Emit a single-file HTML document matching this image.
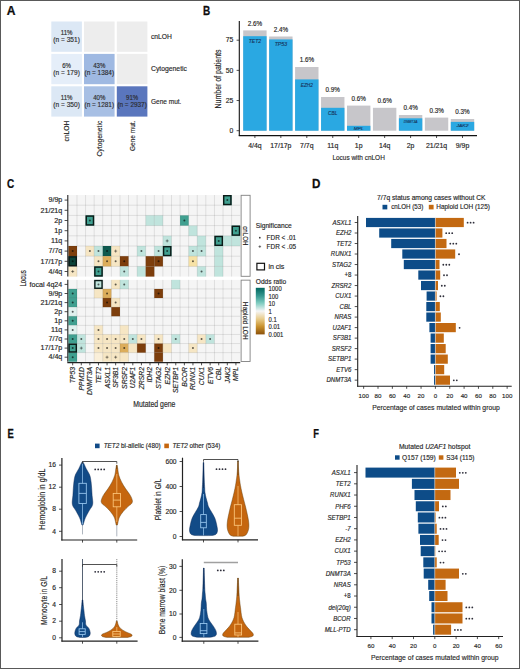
<!DOCTYPE html>
<html><head><meta charset="utf-8"><title>Figure</title><style>html,body{margin:0;padding:0;background:#fff;width:520px;height:669px;overflow:hidden}svg{display:block;font-family:"Liberation Sans",sans-serif}</style></head><body>
<svg width="520" height="669" viewBox="0 0 520 669" font-family="Liberation Sans, sans-serif"><rect x="0" y="0" width="520" height="669" fill="#ffffff"/><text transform="translate(6.8 15.4) scale(0.9956 1)" x="0" y="0" font-size="12.14" font-weight="bold" fill="#0d0d0d" stroke="#0d0d0d" stroke-width="0.25">A</text>
<text transform="translate(203.1 15.4) scale(0.8240 1)" x="0" y="0" font-size="12.14" font-weight="bold" fill="#0d0d0d" stroke="#0d0d0d" stroke-width="0.25">B</text>
<text transform="translate(6.9 188) scale(0.7774 1)" x="0" y="0" font-size="12.86" font-weight="bold" fill="#0d0d0d" stroke="#0d0d0d" stroke-width="0.25">C</text>
<text transform="translate(312.1 187.8) scale(0.9279 1)" x="0" y="0" font-size="12.57" font-weight="bold" fill="#0d0d0d" stroke="#0d0d0d" stroke-width="0.25">D</text>
<text transform="translate(7.5 437.8) scale(0.7748 1)" x="0" y="0" font-size="12.14" font-weight="bold" fill="#0d0d0d" stroke="#0d0d0d" stroke-width="0.25">E</text>
<text transform="translate(313.3 437.8) scale(0.7699 1)" x="0" y="0" font-size="12.14" font-weight="bold" fill="#0d0d0d" stroke="#0d0d0d" stroke-width="0.25">F</text>
<rect x="51.3" y="21.5" width="30.6" height="30.3" fill="#dce8f5"/>
<text transform="translate(66.6 32.9) scale(0.9200 1)" x="0" y="2.34" font-size="6.6" text-anchor="middle" fill="#2b2b2b" stroke="#2b2b2b" stroke-width="0.15">11%</text>
<text transform="translate(66.6 39.9) scale(0.9963 1)" x="0" y="2.34" font-size="6.6" text-anchor="middle" fill="#2b2b2b" stroke="#2b2b2b" stroke-width="0.15">(n = 351)</text>
<rect x="84" y="21.5" width="30.6" height="30.3" fill="#ededed"/>
<rect x="116.8" y="21.5" width="30.6" height="30.3" fill="#ededed"/>
<rect x="51.3" y="53.9" width="30.6" height="30.3" fill="#e5eef9"/>
<text transform="translate(66.6 65.3) scale(0.9200 1)" x="0" y="2.34" font-size="6.6" text-anchor="middle" fill="#2b2b2b" stroke="#2b2b2b" stroke-width="0.15">6%</text>
<text transform="translate(66.6 72.3) scale(0.9963 1)" x="0" y="2.34" font-size="6.6" text-anchor="middle" fill="#2b2b2b" stroke="#2b2b2b" stroke-width="0.15">(n = 179)</text>
<rect x="84" y="53.9" width="30.6" height="30.3" fill="#9fb9e2"/>
<text transform="translate(99.3 65.3) scale(0.9200 1)" x="0" y="2.34" font-size="6.6" text-anchor="middle" fill="#2b2b2b" stroke="#2b2b2b" stroke-width="0.15">43%</text>
<text transform="translate(99.3 72.3) scale(0.9746 1)" x="0" y="2.34" font-size="6.6" text-anchor="middle" fill="#2b2b2b" stroke="#2b2b2b" stroke-width="0.15">(n = 1384)</text>
<rect x="116.8" y="53.9" width="30.6" height="30.3" fill="#ededed"/>
<rect x="51.3" y="86.3" width="30.6" height="30.3" fill="#dce8f5"/>
<text transform="translate(66.6 97.7) scale(0.9200 1)" x="0" y="2.34" font-size="6.6" text-anchor="middle" fill="#2b2b2b" stroke="#2b2b2b" stroke-width="0.15">11%</text>
<text transform="translate(66.6 104.7) scale(0.9963 1)" x="0" y="2.34" font-size="6.6" text-anchor="middle" fill="#2b2b2b" stroke="#2b2b2b" stroke-width="0.15">(n = 350)</text>
<rect x="84" y="86.3" width="30.6" height="30.3" fill="#a7bfe4"/>
<text transform="translate(99.3 97.7) scale(0.9200 1)" x="0" y="2.34" font-size="6.6" text-anchor="middle" fill="#2b2b2b" stroke="#2b2b2b" stroke-width="0.15">40%</text>
<text transform="translate(99.3 104.7) scale(0.9746 1)" x="0" y="2.34" font-size="6.6" text-anchor="middle" fill="#2b2b2b" stroke="#2b2b2b" stroke-width="0.15">(n = 1281)</text>
<rect x="116.8" y="86.3" width="30.6" height="30.3" fill="#5a76bd"/>
<text transform="translate(132.1 97.7) scale(0.9200 1)" x="0" y="2.34" font-size="6.6" text-anchor="middle" fill="#2b2b2b" stroke="#2b2b2b" stroke-width="0.15">91%</text>
<text transform="translate(132.1 104.7) scale(0.9746 1)" x="0" y="2.34" font-size="6.6" text-anchor="middle" fill="#2b2b2b" stroke="#2b2b2b" stroke-width="0.15">(n = 2937)</text>
<text transform="translate(151 36.35) scale(0.9372 1)" x="0" y="2.56" font-size="7.2" text-anchor="start" fill="#262626" stroke="#262626" stroke-width="0.15">cnLOH</text>
<text transform="translate(151 68.75) scale(0.9469 1)" x="0" y="2.56" font-size="7.2" text-anchor="start" fill="#262626" stroke="#262626" stroke-width="0.15">Cytogenetic</text>
<text transform="translate(151 101.15) scale(0.9074 1)" x="0" y="2.56" font-size="7.2" text-anchor="start" fill="#262626" stroke="#262626" stroke-width="0.15">Gene mut.</text>
<text transform="translate(66.9 120.6) rotate(-90) scale(0.9372 1)" x="0" y="2.56" font-size="7.2" text-anchor="end" fill="#262626" stroke="#262626" stroke-width="0.15">cnLOH</text>
<text transform="translate(99.6 120.6) rotate(-90) scale(0.9469 1)" x="0" y="2.56" font-size="7.2" text-anchor="end" fill="#262626" stroke="#262626" stroke-width="0.15">Cytogenetic</text>
<text transform="translate(132.4 120.6) rotate(-90) scale(0.9074 1)" x="0" y="2.56" font-size="7.2" text-anchor="end" fill="#262626" stroke="#262626" stroke-width="0.15">Gene mut.</text>
<rect x="243.2" y="30.4" width="23.4" height="100.3" fill="#c7c6ca"/>
<rect x="243.2" y="36.2" width="23.4" height="94.5" fill="#2aa8e2"/>
<text transform="translate(254.9 23.6) scale(1.0000 1)" x="0" y="2.24" font-size="6.3" text-anchor="middle" fill="#262626" stroke="#262626" stroke-width="0.15">2.6%</text>
<text transform="translate(254.9 41.5) scale(1.0185 1)" x="0" y="1.74" font-size="4.9" text-anchor="middle" fill="#17375f" font-style="italic" stroke="#17375f" stroke-width="0.15">TET2</text>
<line x1="254.9" y1="135.6" x2="254.9" y2="138" stroke="#222" stroke-width="0.8"/>
<text transform="translate(254.9 145.6) scale(1.1000 1)" x="0" y="2.24" font-size="6.3" text-anchor="middle" fill="#262626" stroke="#262626" stroke-width="0.15">4/4q</text>
<rect x="269.15" y="36.5" width="23.4" height="94.2" fill="#c7c6ca"/>
<rect x="269.15" y="39.4" width="23.4" height="91.3" fill="#2aa8e2"/>
<text transform="translate(280.85 29.7) scale(1.0000 1)" x="0" y="2.24" font-size="6.3" text-anchor="middle" fill="#262626" stroke="#262626" stroke-width="0.15">2.4%</text>
<text transform="translate(280.85 44.4) scale(1.0588 1)" x="0" y="1.74" font-size="4.9" text-anchor="middle" fill="#17375f" font-style="italic" stroke="#17375f" stroke-width="0.15">TP53</text>
<line x1="280.85" y1="135.6" x2="280.85" y2="138" stroke="#222" stroke-width="0.8"/>
<text transform="translate(280.85 145.6) scale(1.1000 1)" x="0" y="2.24" font-size="6.3" text-anchor="middle" fill="#262626" stroke="#262626" stroke-width="0.15">17/17p</text>
<rect x="295.1" y="67" width="23.4" height="63.7" fill="#c7c6ca"/>
<rect x="295.1" y="79.4" width="23.4" height="51.3" fill="#2aa8e2"/>
<text transform="translate(306.8 60.2) scale(1.0000 1)" x="0" y="2.24" font-size="6.3" text-anchor="middle" fill="#262626" stroke="#262626" stroke-width="0.15">1.6%</text>
<text transform="translate(306.8 85.3) scale(0.9581 1)" x="0" y="1.74" font-size="4.9" text-anchor="middle" fill="#17375f" font-style="italic" stroke="#17375f" stroke-width="0.15">EZH2</text>
<line x1="306.8" y1="135.6" x2="306.8" y2="138" stroke="#222" stroke-width="0.8"/>
<text transform="translate(306.8 145.6) scale(1.1000 1)" x="0" y="2.24" font-size="6.3" text-anchor="middle" fill="#262626" stroke="#262626" stroke-width="0.15">7/7q</text>
<rect x="321.05" y="97" width="23.4" height="33.7" fill="#c7c6ca"/>
<rect x="321.05" y="107.8" width="23.4" height="22.9" fill="#2aa8e2"/>
<text transform="translate(332.75 90.2) scale(1.0000 1)" x="0" y="2.24" font-size="6.3" text-anchor="middle" fill="#262626" stroke="#262626" stroke-width="0.15">0.9%</text>
<text transform="translate(332.75 113) scale(0.9757 1)" x="0" y="1.74" font-size="4.9" text-anchor="middle" fill="#17375f" font-style="italic" stroke="#17375f" stroke-width="0.15">CBL</text>
<line x1="332.75" y1="135.6" x2="332.75" y2="138" stroke="#222" stroke-width="0.8"/>
<text transform="translate(332.75 145.6) scale(1.1000 1)" x="0" y="2.24" font-size="6.3" text-anchor="middle" fill="#262626" stroke="#262626" stroke-width="0.15">11q</text>
<rect x="347" y="105.6" width="23.4" height="25.1" fill="#c7c6ca"/>
<rect x="347" y="125.8" width="23.4" height="4.9" fill="#2aa8e2"/>
<text transform="translate(358.7 98.8) scale(1.0000 1)" x="0" y="2.24" font-size="6.3" text-anchor="middle" fill="#262626" stroke="#262626" stroke-width="0.15">0.6%</text>
<text transform="translate(358.7 128.6) scale(1.0971 1)" x="0" y="1.53" font-size="4.3" text-anchor="middle" fill="#17375f" font-style="italic" stroke="#17375f" stroke-width="0.15">MPL</text>
<line x1="358.7" y1="135.6" x2="358.7" y2="138" stroke="#222" stroke-width="0.8"/>
<text transform="translate(358.7 145.6) scale(1.1000 1)" x="0" y="2.24" font-size="6.3" text-anchor="middle" fill="#262626" stroke="#262626" stroke-width="0.15">1p</text>
<rect x="372.95" y="107.8" width="23.4" height="22.9" fill="#c7c6ca"/>
<text transform="translate(384.65 101) scale(1.0000 1)" x="0" y="2.24" font-size="6.3" text-anchor="middle" fill="#262626" stroke="#262626" stroke-width="0.15">0.6%</text>
<line x1="384.65" y1="135.6" x2="384.65" y2="138" stroke="#222" stroke-width="0.8"/>
<text transform="translate(384.65 145.6) scale(1.1000 1)" x="0" y="2.24" font-size="6.3" text-anchor="middle" fill="#262626" stroke="#262626" stroke-width="0.15">14q</text>
<rect x="398.9" y="115" width="23.4" height="15.7" fill="#c7c6ca"/>
<rect x="398.9" y="118.3" width="23.4" height="12.4" fill="#2aa8e2"/>
<text transform="translate(410.6 108.2) scale(1.0000 1)" x="0" y="2.24" font-size="6.3" text-anchor="middle" fill="#262626" stroke="#262626" stroke-width="0.15">0.4%</text>
<text transform="translate(410.6 121.4) scale(0.7806 1)" x="0" y="1.53" font-size="4.3" text-anchor="middle" fill="#17375f" font-style="italic" stroke="#17375f" stroke-width="0.15">DNMT3A</text>
<line x1="410.6" y1="135.6" x2="410.6" y2="138" stroke="#222" stroke-width="0.8"/>
<text transform="translate(410.6 145.6) scale(1.1000 1)" x="0" y="2.24" font-size="6.3" text-anchor="middle" fill="#262626" stroke="#262626" stroke-width="0.15">2p</text>
<rect x="424.85" y="117.6" width="23.4" height="13.1" fill="#c7c6ca"/>
<text transform="translate(436.55 110.8) scale(1.0000 1)" x="0" y="2.24" font-size="6.3" text-anchor="middle" fill="#262626" stroke="#262626" stroke-width="0.15">0.3%</text>
<line x1="436.55" y1="135.6" x2="436.55" y2="138" stroke="#222" stroke-width="0.8"/>
<text transform="translate(436.55 145.6) scale(1.1000 1)" x="0" y="2.24" font-size="6.3" text-anchor="middle" fill="#262626" stroke="#262626" stroke-width="0.15">21/21q</text>
<rect x="450.8" y="119" width="23.4" height="11.7" fill="#c7c6ca"/>
<rect x="450.8" y="121.9" width="23.4" height="8.8" fill="#2aa8e2"/>
<text transform="translate(462.5 112.2) scale(1.0000 1)" x="0" y="2.24" font-size="6.3" text-anchor="middle" fill="#262626" stroke="#262626" stroke-width="0.15">0.3%</text>
<text transform="translate(462.5 125) scale(1.1676 1)" x="0" y="1.53" font-size="4.3" text-anchor="middle" fill="#17375f" font-style="italic" stroke="#17375f" stroke-width="0.15">JAK2</text>
<line x1="462.5" y1="135.6" x2="462.5" y2="138" stroke="#222" stroke-width="0.8"/>
<text transform="translate(462.5 145.6) scale(1.1000 1)" x="0" y="2.24" font-size="6.3" text-anchor="middle" fill="#262626" stroke="#262626" stroke-width="0.15">9/9p</text>
<line x1="239.3" y1="21" x2="239.3" y2="136.1" stroke="#111" stroke-width="1.1"/>
<line x1="238.8" y1="135.6" x2="477" y2="135.6" stroke="#111" stroke-width="1.1"/>
<line x1="236.6" y1="130.7" x2="239.3" y2="130.7" stroke="#222" stroke-width="0.8"/>
<text transform="translate(233.4 130.7) scale(1.0800 1)" x="0" y="2.24" font-size="6.3" text-anchor="end" fill="#262626" stroke="#262626" stroke-width="0.15">0</text>
<line x1="236.6" y1="100.53" x2="239.3" y2="100.53" stroke="#222" stroke-width="0.8"/>
<text transform="translate(233.4 100.53) scale(1.0800 1)" x="0" y="2.24" font-size="6.3" text-anchor="end" fill="#262626" stroke="#262626" stroke-width="0.15">25</text>
<line x1="236.6" y1="70.36" x2="239.3" y2="70.36" stroke="#222" stroke-width="0.8"/>
<text transform="translate(233.4 70.36) scale(1.0800 1)" x="0" y="2.24" font-size="6.3" text-anchor="end" fill="#262626" stroke="#262626" stroke-width="0.15">50</text>
<line x1="236.6" y1="40.2" x2="239.3" y2="40.2" stroke="#222" stroke-width="0.8"/>
<text transform="translate(233.4 40.2) scale(1.0800 1)" x="0" y="2.24" font-size="6.3" text-anchor="end" fill="#262626" stroke="#262626" stroke-width="0.15">75</text>
<text transform="translate(217.9 79) rotate(-90) scale(0.8502 1)" x="0" y="2.91" font-size="8.2" text-anchor="middle" fill="#262626" stroke="#262626" stroke-width="0.15">Number of patients</text>
<text transform="translate(358.6 157.5) scale(0.8087 1)" x="0" y="2.84" font-size="8" text-anchor="middle" fill="#262626" stroke="#262626" stroke-width="0.15">Locus with cnLOH</text>
<rect x="68.4" y="195" width="171.8" height="81.6" fill="#f5f5f5"/>
<rect x="223.02" y="195" width="8.59" height="10.2" fill="#40a090"/>
<rect x="85.58" y="215.4" width="8.59" height="10.2" fill="#40a090"/>
<rect x="145.71" y="215.4" width="8.59" height="10.2" fill="#c0e4dd"/>
<rect x="154.3" y="215.4" width="8.59" height="10.2" fill="#c0e4dd"/>
<rect x="180.07" y="215.4" width="8.59" height="10.2" fill="#40a090"/>
<rect x="188.66" y="225.6" width="8.59" height="10.2" fill="#c0e4dd"/>
<rect x="231.61" y="225.6" width="8.59" height="10.2" fill="#40a090"/>
<rect x="162.89" y="235.8" width="8.59" height="10.2" fill="#c0e4dd"/>
<rect x="197.25" y="235.8" width="8.59" height="10.2" fill="#c0e4dd"/>
<rect x="214.43" y="235.8" width="8.59" height="10.2" fill="#40a090"/>
<rect x="223.02" y="235.8" width="8.59" height="10.2" fill="#c0e4dd"/>
<rect x="231.61" y="235.8" width="8.59" height="10.2" fill="#c0e4dd"/>
<rect x="68.4" y="246" width="8.59" height="10.2" fill="#7d3e0c"/>
<rect x="85.58" y="246" width="8.59" height="10.2" fill="#f6e6c4"/>
<rect x="94.17" y="246" width="8.59" height="10.2" fill="#c0e4dd"/>
<rect x="102.76" y="246" width="8.59" height="10.2" fill="#0e5a4f"/>
<rect x="111.35" y="246" width="8.59" height="10.2" fill="#f6e6c4"/>
<rect x="137.12" y="246" width="8.59" height="10.2" fill="#c0e4dd"/>
<rect x="154.3" y="246" width="8.59" height="10.2" fill="#c0e4dd"/>
<rect x="162.89" y="246" width="8.59" height="10.2" fill="#40a090"/>
<rect x="188.66" y="246" width="8.59" height="10.2" fill="#c0e4dd"/>
<rect x="197.25" y="246" width="8.59" height="10.2" fill="#c0e4dd"/>
<rect x="214.43" y="246" width="8.59" height="10.2" fill="#c0e4dd"/>
<rect x="68.4" y="256.2" width="8.59" height="10.2" fill="#0a4238"/>
<rect x="94.17" y="256.2" width="8.59" height="10.2" fill="#f6e6c4"/>
<rect x="102.76" y="256.2" width="8.59" height="10.2" fill="#dcad5b"/>
<rect x="111.35" y="256.2" width="8.59" height="10.2" fill="#f6e6c4"/>
<rect x="119.94" y="256.2" width="8.59" height="10.2" fill="#7d3e0c"/>
<rect x="145.71" y="256.2" width="8.59" height="10.2" fill="#7d3e0c"/>
<rect x="154.3" y="256.2" width="8.59" height="10.2" fill="#7d3e0c"/>
<rect x="188.66" y="256.2" width="8.59" height="10.2" fill="#f7e2a6"/>
<rect x="214.43" y="256.2" width="8.59" height="10.2" fill="#c0e4dd"/>
<rect x="68.4" y="266.4" width="8.59" height="10.2" fill="#f6e6c4"/>
<rect x="94.17" y="266.4" width="8.59" height="10.2" fill="#40a090"/>
<rect x="119.94" y="266.4" width="8.59" height="10.2" fill="#c0e4dd"/>
<rect x="137.12" y="266.4" width="8.59" height="10.2" fill="#c0e4dd"/>
<rect x="145.71" y="266.4" width="8.59" height="10.2" fill="#7d3e0c"/>
<rect x="197.25" y="266.4" width="8.59" height="10.2" fill="#c0e4dd"/>
<rect x="214.43" y="266.4" width="8.59" height="10.2" fill="#c0e4dd"/>
<line x1="76.99" y1="195" x2="76.99" y2="276.6" stroke="#000" stroke-width="0.75" stroke-opacity="0.13"/>
<line x1="85.58" y1="195" x2="85.58" y2="276.6" stroke="#000" stroke-width="0.75" stroke-opacity="0.13"/>
<line x1="94.17" y1="195" x2="94.17" y2="276.6" stroke="#000" stroke-width="0.75" stroke-opacity="0.13"/>
<line x1="102.76" y1="195" x2="102.76" y2="276.6" stroke="#000" stroke-width="0.75" stroke-opacity="0.13"/>
<line x1="111.35" y1="195" x2="111.35" y2="276.6" stroke="#000" stroke-width="0.75" stroke-opacity="0.13"/>
<line x1="119.94" y1="195" x2="119.94" y2="276.6" stroke="#000" stroke-width="0.75" stroke-opacity="0.13"/>
<line x1="128.53" y1="195" x2="128.53" y2="276.6" stroke="#000" stroke-width="0.75" stroke-opacity="0.13"/>
<line x1="137.12" y1="195" x2="137.12" y2="276.6" stroke="#000" stroke-width="0.75" stroke-opacity="0.13"/>
<line x1="145.71" y1="195" x2="145.71" y2="276.6" stroke="#000" stroke-width="0.75" stroke-opacity="0.13"/>
<line x1="154.3" y1="195" x2="154.3" y2="276.6" stroke="#000" stroke-width="0.75" stroke-opacity="0.13"/>
<line x1="162.89" y1="195" x2="162.89" y2="276.6" stroke="#000" stroke-width="0.75" stroke-opacity="0.13"/>
<line x1="171.48" y1="195" x2="171.48" y2="276.6" stroke="#000" stroke-width="0.75" stroke-opacity="0.13"/>
<line x1="180.07" y1="195" x2="180.07" y2="276.6" stroke="#000" stroke-width="0.75" stroke-opacity="0.13"/>
<line x1="188.66" y1="195" x2="188.66" y2="276.6" stroke="#000" stroke-width="0.75" stroke-opacity="0.13"/>
<line x1="197.25" y1="195" x2="197.25" y2="276.6" stroke="#000" stroke-width="0.75" stroke-opacity="0.13"/>
<line x1="205.84" y1="195" x2="205.84" y2="276.6" stroke="#000" stroke-width="0.75" stroke-opacity="0.13"/>
<line x1="214.43" y1="195" x2="214.43" y2="276.6" stroke="#000" stroke-width="0.75" stroke-opacity="0.13"/>
<line x1="223.02" y1="195" x2="223.02" y2="276.6" stroke="#000" stroke-width="0.75" stroke-opacity="0.13"/>
<line x1="231.61" y1="195" x2="231.61" y2="276.6" stroke="#000" stroke-width="0.75" stroke-opacity="0.13"/>
<line x1="68.4" y1="205.2" x2="240.2" y2="205.2" stroke="#000" stroke-width="0.75" stroke-opacity="0.13"/>
<line x1="68.4" y1="215.4" x2="240.2" y2="215.4" stroke="#000" stroke-width="0.75" stroke-opacity="0.13"/>
<line x1="68.4" y1="225.6" x2="240.2" y2="225.6" stroke="#000" stroke-width="0.75" stroke-opacity="0.13"/>
<line x1="68.4" y1="235.8" x2="240.2" y2="235.8" stroke="#000" stroke-width="0.75" stroke-opacity="0.13"/>
<line x1="68.4" y1="246" x2="240.2" y2="246" stroke="#000" stroke-width="0.75" stroke-opacity="0.13"/>
<line x1="68.4" y1="256.2" x2="240.2" y2="256.2" stroke="#000" stroke-width="0.75" stroke-opacity="0.13"/>
<line x1="68.4" y1="266.4" x2="240.2" y2="266.4" stroke="#000" stroke-width="0.75" stroke-opacity="0.13"/>
<rect x="223.72" y="195.7" width="7.19" height="8.8" fill="none" stroke="#0b1a17" stroke-width="1.4"/>
<circle cx="227.31" cy="200.1" r="1.0" fill="#000" fill-opacity="0.62"/>
<rect x="86.28" y="216.1" width="7.19" height="8.8" fill="none" stroke="#0b1a17" stroke-width="1.4"/>
<circle cx="89.88" cy="220.5" r="1.0" fill="#000" fill-opacity="0.62"/>
<circle cx="184.36" cy="220.5" r="1.0" fill="#000" fill-opacity="0.62"/>
<rect x="232.31" y="226.3" width="7.19" height="8.8" fill="none" stroke="#0b1a17" stroke-width="1.4"/>
<circle cx="235.91" cy="230.7" r="1.0" fill="#000" fill-opacity="0.62"/>
<line x1="165.68" y1="240.9" x2="168.68" y2="240.9" stroke="#000" stroke-width="0.7" stroke-opacity="0.62"/>
<line x1="167.18" y1="239.4" x2="167.18" y2="242.4" stroke="#000" stroke-width="0.7" stroke-opacity="0.62"/>
<rect x="215.13" y="236.5" width="7.19" height="8.8" fill="none" stroke="#0b1a17" stroke-width="1.4"/>
<circle cx="218.72" cy="240.9" r="1.0" fill="#000" fill-opacity="0.62"/>
<circle cx="72.7" cy="251.1" r="1.0" fill="#000" fill-opacity="0.62"/>
<circle cx="89.88" cy="251.1" r="1.0" fill="#000" fill-opacity="0.62"/>
<circle cx="98.47" cy="251.1" r="1.0" fill="#000" fill-opacity="0.62"/>
<circle cx="107.06" cy="251.1" r="1.0" fill="#000" fill-opacity="0.62"/>
<line x1="114.15" y1="251.1" x2="117.15" y2="251.1" stroke="#000" stroke-width="0.7" stroke-opacity="0.62"/>
<line x1="115.65" y1="249.6" x2="115.65" y2="252.6" stroke="#000" stroke-width="0.7" stroke-opacity="0.62"/>
<circle cx="141.41" cy="251.1" r="1.0" fill="#000" fill-opacity="0.62"/>
<circle cx="158.59" cy="251.1" r="1.0" fill="#000" fill-opacity="0.62"/>
<rect x="163.59" y="246.7" width="7.19" height="8.8" fill="none" stroke="#0b1a17" stroke-width="1.4"/>
<circle cx="167.18" cy="251.1" r="1.0" fill="#000" fill-opacity="0.62"/>
<circle cx="192.95" cy="251.1" r="1.0" fill="#000" fill-opacity="0.62"/>
<circle cx="201.54" cy="251.1" r="1.0" fill="#000" fill-opacity="0.62"/>
<rect x="69.1" y="256.9" width="7.19" height="8.8" fill="none" stroke="#0b1a17" stroke-width="1.4"/>
<circle cx="72.7" cy="261.3" r="1.0" fill="#000" fill-opacity="0.62"/>
<circle cx="98.47" cy="261.3" r="1.0" fill="#000" fill-opacity="0.62"/>
<circle cx="107.06" cy="261.3" r="1.0" fill="#000" fill-opacity="0.62"/>
<circle cx="115.65" cy="261.3" r="1.0" fill="#000" fill-opacity="0.62"/>
<circle cx="124.23" cy="261.3" r="1.0" fill="#000" fill-opacity="0.62"/>
<circle cx="158.59" cy="261.3" r="1.0" fill="#000" fill-opacity="0.62"/>
<circle cx="192.95" cy="261.3" r="1.0" fill="#000" fill-opacity="0.62"/>
<line x1="71.2" y1="271.5" x2="74.2" y2="271.5" stroke="#000" stroke-width="0.7" stroke-opacity="0.62"/>
<line x1="72.7" y1="270" x2="72.7" y2="273" stroke="#000" stroke-width="0.7" stroke-opacity="0.62"/>
<rect x="94.87" y="267.1" width="7.19" height="8.8" fill="none" stroke="#0b1a17" stroke-width="1.4"/>
<circle cx="98.47" cy="271.5" r="1.0" fill="#000" fill-opacity="0.62"/>
<circle cx="124.23" cy="271.5" r="1.0" fill="#000" fill-opacity="0.62"/>
<circle cx="201.54" cy="271.5" r="1.0" fill="#000" fill-opacity="0.62"/>
<rect x="68.4" y="279.85" width="171.8" height="81.9" fill="#f5f5f5"/>
<rect x="94.17" y="279.85" width="8.59" height="9.1" fill="#c0e4dd"/>
<rect x="111.35" y="279.85" width="8.59" height="9.1" fill="#f6e6c4"/>
<rect x="119.94" y="279.85" width="8.59" height="9.1" fill="#c0e4dd"/>
<rect x="171.48" y="279.85" width="8.59" height="9.1" fill="#c0e4dd"/>
<rect x="68.4" y="288.95" width="8.59" height="9.1" fill="#40a090"/>
<rect x="94.17" y="288.95" width="8.59" height="9.1" fill="#f6e6c4"/>
<rect x="102.76" y="288.95" width="8.59" height="9.1" fill="#dcad5b"/>
<rect x="154.3" y="288.95" width="8.59" height="9.1" fill="#7d3e0c"/>
<rect x="68.4" y="298.05" width="8.59" height="9.1" fill="#40a090"/>
<rect x="102.76" y="298.05" width="8.59" height="9.1" fill="#7d3e0c"/>
<rect x="111.35" y="298.05" width="8.59" height="9.1" fill="#f6e6c4"/>
<rect x="68.4" y="307.15" width="8.59" height="9.1" fill="#dff1ee"/>
<rect x="111.35" y="307.15" width="8.59" height="9.1" fill="#7d3e0c"/>
<rect x="68.4" y="316.25" width="8.59" height="9.1" fill="#40a090"/>
<rect x="68.4" y="325.35" width="8.59" height="9.1" fill="#dff1ee"/>
<rect x="94.17" y="325.35" width="8.59" height="9.1" fill="#f6e6c4"/>
<rect x="119.94" y="325.35" width="8.59" height="9.1" fill="#f6e6c4"/>
<rect x="68.4" y="334.45" width="8.59" height="9.1" fill="#40a090"/>
<rect x="76.99" y="334.45" width="8.59" height="9.1" fill="#c0e4dd"/>
<rect x="94.17" y="334.45" width="8.59" height="9.1" fill="#f6e6c4"/>
<rect x="102.76" y="334.45" width="8.59" height="9.1" fill="#f6e6c4"/>
<rect x="111.35" y="334.45" width="8.59" height="9.1" fill="#f6e6c4"/>
<rect x="119.94" y="334.45" width="8.59" height="9.1" fill="#f6e6c4"/>
<rect x="128.53" y="334.45" width="8.59" height="9.1" fill="#c0e4dd"/>
<rect x="137.12" y="334.45" width="8.59" height="9.1" fill="#f6e6c4"/>
<rect x="154.3" y="334.45" width="8.59" height="9.1" fill="#f6e6c4"/>
<rect x="171.48" y="334.45" width="8.59" height="9.1" fill="#c0e4dd"/>
<rect x="197.25" y="334.45" width="8.59" height="9.1" fill="#f6e6c4"/>
<rect x="205.84" y="334.45" width="8.59" height="9.1" fill="#c0e4dd"/>
<rect x="68.4" y="343.55" width="8.59" height="9.1" fill="#40a090"/>
<rect x="76.99" y="343.55" width="8.59" height="9.1" fill="#c0e4dd"/>
<rect x="94.17" y="343.55" width="8.59" height="9.1" fill="#f6e6c4"/>
<rect x="102.76" y="343.55" width="8.59" height="9.1" fill="#f6e6c4"/>
<rect x="111.35" y="343.55" width="8.59" height="9.1" fill="#f6e6c4"/>
<rect x="119.94" y="343.55" width="8.59" height="9.1" fill="#dcad5b"/>
<rect x="128.53" y="343.55" width="8.59" height="9.1" fill="#f6e6c4"/>
<rect x="137.12" y="343.55" width="8.59" height="9.1" fill="#7d3e0c"/>
<rect x="154.3" y="343.55" width="8.59" height="9.1" fill="#7d3e0c"/>
<rect x="162.89" y="343.55" width="8.59" height="9.1" fill="#f6e6c4"/>
<rect x="188.66" y="343.55" width="8.59" height="9.1" fill="#f6e6c4"/>
<rect x="68.4" y="352.65" width="8.59" height="9.1" fill="#40a090"/>
<rect x="94.17" y="352.65" width="8.59" height="9.1" fill="#faefd9"/>
<rect x="102.76" y="352.65" width="8.59" height="9.1" fill="#f6e6c4"/>
<rect x="111.35" y="352.65" width="8.59" height="9.1" fill="#f6e6c4"/>
<rect x="119.94" y="352.65" width="8.59" height="9.1" fill="#f6e6c4"/>
<rect x="154.3" y="352.65" width="8.59" height="9.1" fill="#7d3e0c"/>
<line x1="76.99" y1="279.85" x2="76.99" y2="361.75" stroke="#000" stroke-width="0.75" stroke-opacity="0.13"/>
<line x1="85.58" y1="279.85" x2="85.58" y2="361.75" stroke="#000" stroke-width="0.75" stroke-opacity="0.13"/>
<line x1="94.17" y1="279.85" x2="94.17" y2="361.75" stroke="#000" stroke-width="0.75" stroke-opacity="0.13"/>
<line x1="102.76" y1="279.85" x2="102.76" y2="361.75" stroke="#000" stroke-width="0.75" stroke-opacity="0.13"/>
<line x1="111.35" y1="279.85" x2="111.35" y2="361.75" stroke="#000" stroke-width="0.75" stroke-opacity="0.13"/>
<line x1="119.94" y1="279.85" x2="119.94" y2="361.75" stroke="#000" stroke-width="0.75" stroke-opacity="0.13"/>
<line x1="128.53" y1="279.85" x2="128.53" y2="361.75" stroke="#000" stroke-width="0.75" stroke-opacity="0.13"/>
<line x1="137.12" y1="279.85" x2="137.12" y2="361.75" stroke="#000" stroke-width="0.75" stroke-opacity="0.13"/>
<line x1="145.71" y1="279.85" x2="145.71" y2="361.75" stroke="#000" stroke-width="0.75" stroke-opacity="0.13"/>
<line x1="154.3" y1="279.85" x2="154.3" y2="361.75" stroke="#000" stroke-width="0.75" stroke-opacity="0.13"/>
<line x1="162.89" y1="279.85" x2="162.89" y2="361.75" stroke="#000" stroke-width="0.75" stroke-opacity="0.13"/>
<line x1="171.48" y1="279.85" x2="171.48" y2="361.75" stroke="#000" stroke-width="0.75" stroke-opacity="0.13"/>
<line x1="180.07" y1="279.85" x2="180.07" y2="361.75" stroke="#000" stroke-width="0.75" stroke-opacity="0.13"/>
<line x1="188.66" y1="279.85" x2="188.66" y2="361.75" stroke="#000" stroke-width="0.75" stroke-opacity="0.13"/>
<line x1="197.25" y1="279.85" x2="197.25" y2="361.75" stroke="#000" stroke-width="0.75" stroke-opacity="0.13"/>
<line x1="205.84" y1="279.85" x2="205.84" y2="361.75" stroke="#000" stroke-width="0.75" stroke-opacity="0.13"/>
<line x1="214.43" y1="279.85" x2="214.43" y2="361.75" stroke="#000" stroke-width="0.75" stroke-opacity="0.13"/>
<line x1="223.02" y1="279.85" x2="223.02" y2="361.75" stroke="#000" stroke-width="0.75" stroke-opacity="0.13"/>
<line x1="231.61" y1="279.85" x2="231.61" y2="361.75" stroke="#000" stroke-width="0.75" stroke-opacity="0.13"/>
<line x1="68.4" y1="288.95" x2="240.2" y2="288.95" stroke="#000" stroke-width="0.75" stroke-opacity="0.13"/>
<line x1="68.4" y1="298.05" x2="240.2" y2="298.05" stroke="#000" stroke-width="0.75" stroke-opacity="0.13"/>
<line x1="68.4" y1="307.15" x2="240.2" y2="307.15" stroke="#000" stroke-width="0.75" stroke-opacity="0.13"/>
<line x1="68.4" y1="316.25" x2="240.2" y2="316.25" stroke="#000" stroke-width="0.75" stroke-opacity="0.13"/>
<line x1="68.4" y1="325.35" x2="240.2" y2="325.35" stroke="#000" stroke-width="0.75" stroke-opacity="0.13"/>
<line x1="68.4" y1="334.45" x2="240.2" y2="334.45" stroke="#000" stroke-width="0.75" stroke-opacity="0.13"/>
<line x1="68.4" y1="343.55" x2="240.2" y2="343.55" stroke="#000" stroke-width="0.75" stroke-opacity="0.13"/>
<line x1="68.4" y1="352.65" x2="240.2" y2="352.65" stroke="#000" stroke-width="0.75" stroke-opacity="0.13"/>
<rect x="94.87" y="280.55" width="7.19" height="7.7" fill="none" stroke="#0b1a17" stroke-width="1.4"/>
<circle cx="98.47" cy="284.4" r="1.0" fill="#000" fill-opacity="0.62"/>
<circle cx="115.65" cy="284.4" r="1.0" fill="#000" fill-opacity="0.62"/>
<circle cx="124.23" cy="284.4" r="1.0" fill="#000" fill-opacity="0.62"/>
<circle cx="72.7" cy="293.5" r="1.0" fill="#000" fill-opacity="0.62"/>
<circle cx="107.06" cy="293.5" r="1.0" fill="#000" fill-opacity="0.62"/>
<circle cx="158.59" cy="293.5" r="1.0" fill="#000" fill-opacity="0.62"/>
<circle cx="72.7" cy="302.6" r="1.0" fill="#000" fill-opacity="0.62"/>
<circle cx="107.06" cy="302.6" r="1.0" fill="#000" fill-opacity="0.62"/>
<circle cx="115.65" cy="302.6" r="1.0" fill="#000" fill-opacity="0.62"/>
<circle cx="72.7" cy="311.7" r="1.0" fill="#000" fill-opacity="0.62"/>
<circle cx="72.7" cy="320.8" r="1.0" fill="#000" fill-opacity="0.62"/>
<circle cx="72.7" cy="329.9" r="1.0" fill="#000" fill-opacity="0.62"/>
<circle cx="98.47" cy="329.9" r="1.0" fill="#000" fill-opacity="0.62"/>
<circle cx="72.7" cy="339" r="1.0" fill="#000" fill-opacity="0.62"/>
<circle cx="81.29" cy="339" r="1.0" fill="#000" fill-opacity="0.62"/>
<circle cx="98.47" cy="339" r="1.0" fill="#000" fill-opacity="0.62"/>
<circle cx="107.06" cy="339" r="1.0" fill="#000" fill-opacity="0.62"/>
<circle cx="115.65" cy="339" r="1.0" fill="#000" fill-opacity="0.62"/>
<circle cx="124.23" cy="339" r="1.0" fill="#000" fill-opacity="0.62"/>
<circle cx="132.82" cy="339" r="1.0" fill="#000" fill-opacity="0.62"/>
<circle cx="141.41" cy="339" r="1.0" fill="#000" fill-opacity="0.62"/>
<circle cx="158.59" cy="339" r="1.0" fill="#000" fill-opacity="0.62"/>
<circle cx="175.78" cy="339" r="1.0" fill="#000" fill-opacity="0.62"/>
<circle cx="201.54" cy="339" r="1.0" fill="#000" fill-opacity="0.62"/>
<circle cx="210.13" cy="339" r="1.0" fill="#000" fill-opacity="0.62"/>
<rect x="69.1" y="344.25" width="7.19" height="7.7" fill="none" stroke="#0b1a17" stroke-width="1.4"/>
<circle cx="72.7" cy="348.1" r="1.0" fill="#000" fill-opacity="0.62"/>
<line x1="79.79" y1="348.1" x2="82.79" y2="348.1" stroke="#000" stroke-width="0.7" stroke-opacity="0.62"/>
<line x1="81.29" y1="346.6" x2="81.29" y2="349.6" stroke="#000" stroke-width="0.7" stroke-opacity="0.62"/>
<circle cx="98.47" cy="348.1" r="1.0" fill="#000" fill-opacity="0.62"/>
<circle cx="107.06" cy="348.1" r="1.0" fill="#000" fill-opacity="0.62"/>
<circle cx="115.65" cy="348.1" r="1.0" fill="#000" fill-opacity="0.62"/>
<circle cx="124.23" cy="348.1" r="1.0" fill="#000" fill-opacity="0.62"/>
<circle cx="158.59" cy="348.1" r="1.0" fill="#000" fill-opacity="0.62"/>
<circle cx="192.95" cy="348.1" r="1.0" fill="#000" fill-opacity="0.62"/>
<circle cx="72.7" cy="357.2" r="1.0" fill="#000" fill-opacity="0.62"/>
<line x1="105.56" y1="357.2" x2="108.56" y2="357.2" stroke="#000" stroke-width="0.7" stroke-opacity="0.62"/>
<line x1="107.06" y1="355.7" x2="107.06" y2="358.7" stroke="#000" stroke-width="0.7" stroke-opacity="0.62"/>
<line x1="114.15" y1="357.2" x2="117.15" y2="357.2" stroke="#000" stroke-width="0.7" stroke-opacity="0.62"/>
<line x1="115.65" y1="355.7" x2="115.65" y2="358.7" stroke="#000" stroke-width="0.7" stroke-opacity="0.62"/>
<line x1="67.8" y1="195" x2="67.8" y2="276.6" stroke="#222" stroke-width="1.1"/>
<line x1="64.6" y1="200.1" x2="67.8" y2="200.1" stroke="#222" stroke-width="0.8"/>
<text transform="translate(62.3 200.1) scale(1.1300 1)" x="0" y="2.24" font-size="6.3" text-anchor="end" fill="#262626" stroke="#262626" stroke-width="0.15">9/9p</text>
<line x1="64.6" y1="210.3" x2="67.8" y2="210.3" stroke="#222" stroke-width="0.8"/>
<text transform="translate(62.3 210.3) scale(1.1300 1)" x="0" y="2.24" font-size="6.3" text-anchor="end" fill="#262626" stroke="#262626" stroke-width="0.15">21/21q</text>
<line x1="64.6" y1="220.5" x2="67.8" y2="220.5" stroke="#222" stroke-width="0.8"/>
<text transform="translate(62.3 220.5) scale(1.1300 1)" x="0" y="2.24" font-size="6.3" text-anchor="end" fill="#262626" stroke="#262626" stroke-width="0.15">2p</text>
<line x1="64.6" y1="230.7" x2="67.8" y2="230.7" stroke="#222" stroke-width="0.8"/>
<text transform="translate(62.3 230.7) scale(1.1300 1)" x="0" y="2.24" font-size="6.3" text-anchor="end" fill="#262626" stroke="#262626" stroke-width="0.15">1p</text>
<line x1="64.6" y1="240.9" x2="67.8" y2="240.9" stroke="#222" stroke-width="0.8"/>
<text transform="translate(62.3 240.9) scale(1.1300 1)" x="0" y="2.24" font-size="6.3" text-anchor="end" fill="#262626" stroke="#262626" stroke-width="0.15">11q</text>
<line x1="64.6" y1="251.1" x2="67.8" y2="251.1" stroke="#222" stroke-width="0.8"/>
<text transform="translate(62.3 251.1) scale(1.1300 1)" x="0" y="2.24" font-size="6.3" text-anchor="end" fill="#262626" stroke="#262626" stroke-width="0.15">7/7q</text>
<line x1="64.6" y1="261.3" x2="67.8" y2="261.3" stroke="#222" stroke-width="0.8"/>
<text transform="translate(62.3 261.3) scale(1.1300 1)" x="0" y="2.24" font-size="6.3" text-anchor="end" fill="#262626" stroke="#262626" stroke-width="0.15">17/17p</text>
<line x1="64.6" y1="271.5" x2="67.8" y2="271.5" stroke="#222" stroke-width="0.8"/>
<text transform="translate(62.3 271.5) scale(1.1300 1)" x="0" y="2.24" font-size="6.3" text-anchor="end" fill="#262626" stroke="#262626" stroke-width="0.15">4/4q</text>
<line x1="67.8" y1="279.85" x2="67.8" y2="361.75" stroke="#222" stroke-width="1.1"/>
<line x1="64.6" y1="284.4" x2="67.8" y2="284.4" stroke="#222" stroke-width="0.8"/>
<text transform="translate(62.3 284.4) scale(1.1300 1)" x="0" y="2.24" font-size="6.3" text-anchor="end" fill="#262626" stroke="#262626" stroke-width="0.15">focal 4q24</text>
<line x1="64.6" y1="293.5" x2="67.8" y2="293.5" stroke="#222" stroke-width="0.8"/>
<text transform="translate(62.3 293.5) scale(1.1300 1)" x="0" y="2.24" font-size="6.3" text-anchor="end" fill="#262626" stroke="#262626" stroke-width="0.15">9/9p</text>
<line x1="64.6" y1="302.6" x2="67.8" y2="302.6" stroke="#222" stroke-width="0.8"/>
<text transform="translate(62.3 302.6) scale(1.1300 1)" x="0" y="2.24" font-size="6.3" text-anchor="end" fill="#262626" stroke="#262626" stroke-width="0.15">21/21q</text>
<line x1="64.6" y1="311.7" x2="67.8" y2="311.7" stroke="#222" stroke-width="0.8"/>
<text transform="translate(62.3 311.7) scale(1.1300 1)" x="0" y="2.24" font-size="6.3" text-anchor="end" fill="#262626" stroke="#262626" stroke-width="0.15">2p</text>
<line x1="64.6" y1="320.8" x2="67.8" y2="320.8" stroke="#222" stroke-width="0.8"/>
<text transform="translate(62.3 320.8) scale(1.1300 1)" x="0" y="2.24" font-size="6.3" text-anchor="end" fill="#262626" stroke="#262626" stroke-width="0.15">1p</text>
<line x1="64.6" y1="329.9" x2="67.8" y2="329.9" stroke="#222" stroke-width="0.8"/>
<text transform="translate(62.3 329.9) scale(1.1300 1)" x="0" y="2.24" font-size="6.3" text-anchor="end" fill="#262626" stroke="#262626" stroke-width="0.15">11q</text>
<line x1="64.6" y1="339" x2="67.8" y2="339" stroke="#222" stroke-width="0.8"/>
<text transform="translate(62.3 339) scale(1.1300 1)" x="0" y="2.24" font-size="6.3" text-anchor="end" fill="#262626" stroke="#262626" stroke-width="0.15">7/7q</text>
<line x1="64.6" y1="348.1" x2="67.8" y2="348.1" stroke="#222" stroke-width="0.8"/>
<text transform="translate(62.3 348.1) scale(1.1300 1)" x="0" y="2.24" font-size="6.3" text-anchor="end" fill="#262626" stroke="#262626" stroke-width="0.15">17/17p</text>
<line x1="64.6" y1="357.2" x2="67.8" y2="357.2" stroke="#222" stroke-width="0.8"/>
<text transform="translate(62.3 357.2) scale(1.1300 1)" x="0" y="2.24" font-size="6.3" text-anchor="end" fill="#262626" stroke="#262626" stroke-width="0.15">4/4q</text>
<line x1="67.3" y1="362.6" x2="240.2" y2="362.6" stroke="#222" stroke-width="1.1"/>
<line x1="72.7" y1="362.6" x2="72.7" y2="365.3" stroke="#222" stroke-width="0.8"/>
<text transform="translate(72.9 367) rotate(-90) scale(1.0800 1)" x="0" y="2.24" font-size="6.3" text-anchor="end" fill="#262626" font-style="italic" stroke="#262626" stroke-width="0.15">TP53</text>
<line x1="81.29" y1="362.6" x2="81.29" y2="365.3" stroke="#222" stroke-width="0.8"/>
<text transform="translate(81.49 367) rotate(-90) scale(1.0800 1)" x="0" y="2.24" font-size="6.3" text-anchor="end" fill="#262626" font-style="italic" stroke="#262626" stroke-width="0.15">PPM1D</text>
<line x1="89.88" y1="362.6" x2="89.88" y2="365.3" stroke="#222" stroke-width="0.8"/>
<text transform="translate(90.08 367) rotate(-90) scale(1.0800 1)" x="0" y="2.24" font-size="6.3" text-anchor="end" fill="#262626" font-style="italic" stroke="#262626" stroke-width="0.15">DNMT3A</text>
<line x1="98.47" y1="362.6" x2="98.47" y2="365.3" stroke="#222" stroke-width="0.8"/>
<text transform="translate(98.67 367) rotate(-90) scale(1.0800 1)" x="0" y="2.24" font-size="6.3" text-anchor="end" fill="#262626" font-style="italic" stroke="#262626" stroke-width="0.15">TET2</text>
<line x1="107.06" y1="362.6" x2="107.06" y2="365.3" stroke="#222" stroke-width="0.8"/>
<text transform="translate(107.26 367) rotate(-90) scale(1.0800 1)" x="0" y="2.24" font-size="6.3" text-anchor="end" fill="#262626" font-style="italic" stroke="#262626" stroke-width="0.15">ASXL1</text>
<line x1="115.65" y1="362.6" x2="115.65" y2="365.3" stroke="#222" stroke-width="0.8"/>
<text transform="translate(115.85 367) rotate(-90) scale(1.0800 1)" x="0" y="2.24" font-size="6.3" text-anchor="end" fill="#262626" font-style="italic" stroke="#262626" stroke-width="0.15">SF3B1</text>
<line x1="124.24" y1="362.6" x2="124.24" y2="365.3" stroke="#222" stroke-width="0.8"/>
<text transform="translate(124.44 367) rotate(-90) scale(1.0800 1)" x="0" y="2.24" font-size="6.3" text-anchor="end" fill="#262626" font-style="italic" stroke="#262626" stroke-width="0.15">SRSF2</text>
<line x1="132.82" y1="362.6" x2="132.82" y2="365.3" stroke="#222" stroke-width="0.8"/>
<text transform="translate(133.02 367) rotate(-90) scale(1.0800 1)" x="0" y="2.24" font-size="6.3" text-anchor="end" fill="#262626" font-style="italic" stroke="#262626" stroke-width="0.15">U2AF1</text>
<line x1="141.42" y1="362.6" x2="141.42" y2="365.3" stroke="#222" stroke-width="0.8"/>
<text transform="translate(141.62 367) rotate(-90) scale(1.0800 1)" x="0" y="2.24" font-size="6.3" text-anchor="end" fill="#262626" font-style="italic" stroke="#262626" stroke-width="0.15">ZRSR2</text>
<line x1="150" y1="362.6" x2="150" y2="365.3" stroke="#222" stroke-width="0.8"/>
<text transform="translate(150.2 367) rotate(-90) scale(1.0800 1)" x="0" y="2.24" font-size="6.3" text-anchor="end" fill="#262626" font-style="italic" stroke="#262626" stroke-width="0.15">IDH2</text>
<line x1="158.59" y1="362.6" x2="158.59" y2="365.3" stroke="#222" stroke-width="0.8"/>
<text transform="translate(158.79 367) rotate(-90) scale(1.0800 1)" x="0" y="2.24" font-size="6.3" text-anchor="end" fill="#262626" font-style="italic" stroke="#262626" stroke-width="0.15">STAG2</text>
<line x1="167.19" y1="362.6" x2="167.19" y2="365.3" stroke="#222" stroke-width="0.8"/>
<text transform="translate(167.38 367) rotate(-90) scale(1.0800 1)" x="0" y="2.24" font-size="6.3" text-anchor="end" fill="#262626" font-style="italic" stroke="#262626" stroke-width="0.15">EZH2</text>
<line x1="175.78" y1="362.6" x2="175.78" y2="365.3" stroke="#222" stroke-width="0.8"/>
<text transform="translate(175.97 367) rotate(-90) scale(1.0800 1)" x="0" y="2.24" font-size="6.3" text-anchor="end" fill="#262626" font-style="italic" stroke="#262626" stroke-width="0.15">SETBP1</text>
<line x1="184.37" y1="362.6" x2="184.37" y2="365.3" stroke="#222" stroke-width="0.8"/>
<text transform="translate(184.56 367) rotate(-90) scale(1.0800 1)" x="0" y="2.24" font-size="6.3" text-anchor="end" fill="#262626" font-style="italic" stroke="#262626" stroke-width="0.15">BCOR</text>
<line x1="192.95" y1="362.6" x2="192.95" y2="365.3" stroke="#222" stroke-width="0.8"/>
<text transform="translate(193.15 367) rotate(-90) scale(1.0800 1)" x="0" y="2.24" font-size="6.3" text-anchor="end" fill="#262626" font-style="italic" stroke="#262626" stroke-width="0.15">RUNX1</text>
<line x1="201.55" y1="362.6" x2="201.55" y2="365.3" stroke="#222" stroke-width="0.8"/>
<text transform="translate(201.75 367) rotate(-90) scale(1.0800 1)" x="0" y="2.24" font-size="6.3" text-anchor="end" fill="#262626" font-style="italic" stroke="#262626" stroke-width="0.15">CUX1</text>
<line x1="210.13" y1="362.6" x2="210.13" y2="365.3" stroke="#222" stroke-width="0.8"/>
<text transform="translate(210.33 367) rotate(-90) scale(1.0800 1)" x="0" y="2.24" font-size="6.3" text-anchor="end" fill="#262626" font-style="italic" stroke="#262626" stroke-width="0.15">ETV6</text>
<line x1="218.72" y1="362.6" x2="218.72" y2="365.3" stroke="#222" stroke-width="0.8"/>
<text transform="translate(218.92 367) rotate(-90) scale(1.0800 1)" x="0" y="2.24" font-size="6.3" text-anchor="end" fill="#262626" font-style="italic" stroke="#262626" stroke-width="0.15">CBL</text>
<line x1="227.31" y1="362.6" x2="227.31" y2="365.3" stroke="#222" stroke-width="0.8"/>
<text transform="translate(227.51 367) rotate(-90) scale(1.0800 1)" x="0" y="2.24" font-size="6.3" text-anchor="end" fill="#262626" font-style="italic" stroke="#262626" stroke-width="0.15">JAK2</text>
<line x1="235.91" y1="362.6" x2="235.91" y2="365.3" stroke="#222" stroke-width="0.8"/>
<text transform="translate(236.1 367) rotate(-90) scale(1.0800 1)" x="0" y="2.24" font-size="6.3" text-anchor="end" fill="#262626" font-style="italic" stroke="#262626" stroke-width="0.15">MPL</text>
<text transform="translate(154.3 404.3) scale(0.8314 1)" x="0" y="2.95" font-size="8.3" text-anchor="middle" fill="#262626" stroke="#262626" stroke-width="0.15">Mutated gene</text>
<text transform="translate(22.9 278.4) rotate(-90) scale(0.7450 1)" x="0" y="2.95" font-size="8.3" text-anchor="middle" fill="#262626" stroke="#262626" stroke-width="0.15">Locus</text>
<rect x="241.1" y="195.3" width="9" height="81" fill="#ffffff" stroke="#808080" stroke-width="0.9"/>
<text transform="translate(245.7 235.8) rotate(90) scale(0.9539 1)" x="0" y="2.27" font-size="6.4" text-anchor="middle" fill="#262626" stroke="#262626" stroke-width="0.15">cnLOH</text>
<rect x="241.1" y="280.15" width="9" height="81.3" fill="#ffffff" stroke="#808080" stroke-width="0.9"/>
<text transform="translate(245.7 320.8) rotate(90) scale(1.0371 1)" x="0" y="2.27" font-size="6.4" text-anchor="middle" fill="#262626" stroke="#262626" stroke-width="0.15">Haploid LOH</text>
<text transform="translate(255.8 225.4) scale(0.9819 1)" x="0" y="2.41" font-size="6.8" text-anchor="start" fill="#262626" stroke="#262626" stroke-width="0.15">Significance</text>
<circle cx="259.8" cy="237.7" r="0.85" fill="#333"/>
<text transform="translate(266.6 237.7) scale(0.9749 1)" x="0" y="2.34" font-size="6.6" text-anchor="start" fill="#262626" stroke="#262626" stroke-width="0.15">FDR &lt; .01</text>
<line x1="258.5" y1="246.6" x2="261.1" y2="246.6" stroke="#262626" stroke-width="0.6"/>
<line x1="259.8" y1="245.3" x2="259.8" y2="247.9" stroke="#262626" stroke-width="0.6"/>
<text transform="translate(266.6 246.6) scale(0.9749 1)" x="0" y="2.34" font-size="6.6" text-anchor="start" fill="#262626" stroke="#262626" stroke-width="0.15">FDR &lt; .05</text>
<rect x="256.9" y="263.3" width="7.6" height="6.6" fill="none" stroke="#111" stroke-width="1.2"/>
<text transform="translate(268.4 266.6) scale(1.0641 1)" x="0" y="2.34" font-size="6.6" text-anchor="start" fill="#262626" stroke="#262626" stroke-width="0.15">in cis</text>
<text transform="translate(255.8 282) scale(0.9723 1)" x="0" y="2.41" font-size="6.8" text-anchor="start" fill="#262626" stroke="#262626" stroke-width="0.15">Odds ratio</text>
<defs><linearGradient id="brbg" x1="0" y1="0" x2="0" y2="1"><stop offset="0" stop-color="#01665e"/><stop offset="0.17" stop-color="#35978f"/><stop offset="0.33" stop-color="#80cdc1"/><stop offset="0.5" stop-color="#f5f5f5"/><stop offset="0.67" stop-color="#e8cc8a"/><stop offset="0.83" stop-color="#c9922e"/><stop offset="1" stop-color="#8c510a"/></linearGradient></defs>
<rect x="255.8" y="287.8" width="8.9" height="46.6" fill="url(#brbg)"/>
<text transform="translate(268.6 289) scale(0.9200 1)" x="0" y="2.27" font-size="6.4" text-anchor="start" fill="#262626" stroke="#262626" stroke-width="0.15">1000</text>
<text transform="translate(268.6 296.57) scale(0.9200 1)" x="0" y="2.27" font-size="6.4" text-anchor="start" fill="#262626" stroke="#262626" stroke-width="0.15">100</text>
<text transform="translate(268.6 304.14) scale(0.9200 1)" x="0" y="2.27" font-size="6.4" text-anchor="start" fill="#262626" stroke="#262626" stroke-width="0.15">10</text>
<text transform="translate(268.6 311.71) scale(0.9200 1)" x="0" y="2.27" font-size="6.4" text-anchor="start" fill="#262626" stroke="#262626" stroke-width="0.15">1</text>
<text transform="translate(268.6 319.28) scale(0.9200 1)" x="0" y="2.27" font-size="6.4" text-anchor="start" fill="#262626" stroke="#262626" stroke-width="0.15">0.1</text>
<text transform="translate(268.6 326.85) scale(0.9200 1)" x="0" y="2.27" font-size="6.4" text-anchor="start" fill="#262626" stroke="#262626" stroke-width="0.15">0.01</text>
<text transform="translate(268.6 334.42) scale(0.9200 1)" x="0" y="2.27" font-size="6.4" text-anchor="start" fill="#262626" stroke="#262626" stroke-width="0.15">0.001</text>
<rect x="366" y="217.9" width="69.4" height="9.2" fill="#0d4c88"/>
<rect x="435.4" y="217.9" width="28.4" height="9.2" fill="#c36911"/>
<line x1="435.4" y1="217.9" x2="435.4" y2="227.1" stroke="#ffffff" stroke-width="0.4"/>
<line x1="354.7" y1="222.5" x2="357.7" y2="222.5" stroke="#222" stroke-width="0.8"/>
<text transform="translate(351.4 222.5) scale(0.9500 1)" x="0" y="2.27" font-size="6.4" text-anchor="end" fill="#262626" font-style="italic" stroke="#262626" stroke-width="0.15">ASXL1</text>
<circle cx="467.6" cy="222.7" r="0.9" fill="#2e2e3a"/>
<circle cx="470.6" cy="222.7" r="0.9" fill="#2e2e3a"/>
<circle cx="473.6" cy="222.7" r="0.9" fill="#2e2e3a"/>
<rect x="379.2" y="228.41" width="56.2" height="9.2" fill="#0d4c88"/>
<rect x="435.4" y="228.41" width="7" height="9.2" fill="#c36911"/>
<line x1="435.4" y1="228.41" x2="435.4" y2="237.61" stroke="#ffffff" stroke-width="0.4"/>
<line x1="354.7" y1="233.01" x2="357.7" y2="233.01" stroke="#222" stroke-width="0.8"/>
<text transform="translate(351.4 233.01) scale(0.9500 1)" x="0" y="2.27" font-size="6.4" text-anchor="end" fill="#262626" font-style="italic" stroke="#262626" stroke-width="0.15">EZH2</text>
<circle cx="446.2" cy="233.21" r="0.9" fill="#2e2e3a"/>
<circle cx="449.2" cy="233.21" r="0.9" fill="#2e2e3a"/>
<circle cx="452.2" cy="233.21" r="0.9" fill="#2e2e3a"/>
<rect x="391.2" y="238.92" width="44.2" height="9.2" fill="#0d4c88"/>
<rect x="435.4" y="238.92" width="11.1" height="9.2" fill="#c36911"/>
<line x1="435.4" y1="238.92" x2="435.4" y2="248.12" stroke="#ffffff" stroke-width="0.4"/>
<line x1="354.7" y1="243.52" x2="357.7" y2="243.52" stroke="#222" stroke-width="0.8"/>
<text transform="translate(351.4 243.52) scale(0.9500 1)" x="0" y="2.27" font-size="6.4" text-anchor="end" fill="#262626" font-style="italic" stroke="#262626" stroke-width="0.15">TET2</text>
<circle cx="450.3" cy="243.72" r="0.9" fill="#2e2e3a"/>
<circle cx="453.3" cy="243.72" r="0.9" fill="#2e2e3a"/>
<circle cx="456.3" cy="243.72" r="0.9" fill="#2e2e3a"/>
<rect x="402.3" y="249.43" width="33.1" height="9.2" fill="#0d4c88"/>
<rect x="435.4" y="249.43" width="19.8" height="9.2" fill="#c36911"/>
<line x1="435.4" y1="249.43" x2="435.4" y2="258.63" stroke="#ffffff" stroke-width="0.4"/>
<line x1="354.7" y1="254.03" x2="357.7" y2="254.03" stroke="#222" stroke-width="0.8"/>
<text transform="translate(351.4 254.03) scale(0.9500 1)" x="0" y="2.27" font-size="6.4" text-anchor="end" fill="#262626" font-style="italic" stroke="#262626" stroke-width="0.15">RUNX1</text>
<circle cx="459" cy="254.23" r="0.9" fill="#2e2e3a"/>
<rect x="403.8" y="259.94" width="31.6" height="9.2" fill="#0d4c88"/>
<rect x="435.4" y="259.94" width="4.1" height="9.2" fill="#c36911"/>
<line x1="435.4" y1="259.94" x2="435.4" y2="269.14" stroke="#ffffff" stroke-width="0.4"/>
<line x1="354.7" y1="264.54" x2="357.7" y2="264.54" stroke="#222" stroke-width="0.8"/>
<text transform="translate(351.4 264.54) scale(0.9500 1)" x="0" y="2.27" font-size="6.4" text-anchor="end" fill="#262626" font-style="italic" stroke="#262626" stroke-width="0.15">STAG2</text>
<circle cx="443.3" cy="264.74" r="0.9" fill="#2e2e3a"/>
<circle cx="446.3" cy="264.74" r="0.9" fill="#2e2e3a"/>
<circle cx="449.3" cy="264.74" r="0.9" fill="#2e2e3a"/>
<rect x="418.3" y="270.45" width="17.1" height="9.2" fill="#0d4c88"/>
<rect x="435.4" y="270.45" width="4.8" height="9.2" fill="#c36911"/>
<line x1="435.4" y1="270.45" x2="435.4" y2="279.65" stroke="#ffffff" stroke-width="0.4"/>
<line x1="354.7" y1="275.05" x2="357.7" y2="275.05" stroke="#222" stroke-width="0.8"/>
<text transform="translate(351.4 275.05) scale(0.9500 1)" x="0" y="2.27" font-size="6.4" text-anchor="end" fill="#262626" stroke="#262626" stroke-width="0.15">+8</text>
<circle cx="444" cy="275.25" r="0.9" fill="#2e2e3a"/>
<circle cx="447" cy="275.25" r="0.9" fill="#2e2e3a"/>
<rect x="421" y="280.96" width="14.4" height="9.2" fill="#0d4c88"/>
<rect x="435.4" y="280.96" width="2.6" height="9.2" fill="#c36911"/>
<line x1="435.4" y1="280.96" x2="435.4" y2="290.16" stroke="#ffffff" stroke-width="0.4"/>
<line x1="354.7" y1="285.56" x2="357.7" y2="285.56" stroke="#222" stroke-width="0.8"/>
<text transform="translate(351.4 285.56) scale(0.9500 1)" x="0" y="2.27" font-size="6.4" text-anchor="end" fill="#262626" font-style="italic" stroke="#262626" stroke-width="0.15">ZRSR2</text>
<circle cx="441.8" cy="285.76" r="0.9" fill="#2e2e3a"/>
<circle cx="444.8" cy="285.76" r="0.9" fill="#2e2e3a"/>
<rect x="426.6" y="291.47" width="8.8" height="9.2" fill="#0d4c88"/>
<rect x="435.4" y="291.47" width="1.2" height="9.2" fill="#c36911"/>
<line x1="435.4" y1="291.47" x2="435.4" y2="300.67" stroke="#ffffff" stroke-width="0.4"/>
<line x1="354.7" y1="296.07" x2="357.7" y2="296.07" stroke="#222" stroke-width="0.8"/>
<text transform="translate(351.4 296.07) scale(0.9500 1)" x="0" y="2.27" font-size="6.4" text-anchor="end" fill="#262626" font-style="italic" stroke="#262626" stroke-width="0.15">CUX1</text>
<circle cx="440.4" cy="296.27" r="0.9" fill="#2e2e3a"/>
<circle cx="443.4" cy="296.27" r="0.9" fill="#2e2e3a"/>
<rect x="426.3" y="301.98" width="9.1" height="9.2" fill="#0d4c88"/>
<rect x="435.4" y="301.98" width="4.4" height="9.2" fill="#c36911"/>
<line x1="435.4" y1="301.98" x2="435.4" y2="311.18" stroke="#ffffff" stroke-width="0.4"/>
<line x1="354.7" y1="306.58" x2="357.7" y2="306.58" stroke="#222" stroke-width="0.8"/>
<text transform="translate(351.4 306.58) scale(0.9500 1)" x="0" y="2.27" font-size="6.4" text-anchor="end" fill="#262626" font-style="italic" stroke="#262626" stroke-width="0.15">CBL</text>
<rect x="426.3" y="312.49" width="9.1" height="9.2" fill="#0d4c88"/>
<rect x="435.4" y="312.49" width="5.4" height="9.2" fill="#c36911"/>
<line x1="435.4" y1="312.49" x2="435.4" y2="321.69" stroke="#ffffff" stroke-width="0.4"/>
<line x1="354.7" y1="317.09" x2="357.7" y2="317.09" stroke="#222" stroke-width="0.8"/>
<text transform="translate(351.4 317.09) scale(0.9500 1)" x="0" y="2.27" font-size="6.4" text-anchor="end" fill="#262626" font-style="italic" stroke="#262626" stroke-width="0.15">NRAS</text>
<rect x="429.4" y="323" width="6" height="9.2" fill="#0d4c88"/>
<rect x="435.4" y="323" width="20.4" height="9.2" fill="#c36911"/>
<line x1="435.4" y1="323" x2="435.4" y2="332.2" stroke="#ffffff" stroke-width="0.4"/>
<line x1="354.7" y1="327.6" x2="357.7" y2="327.6" stroke="#222" stroke-width="0.8"/>
<text transform="translate(351.4 327.6) scale(0.9500 1)" x="0" y="2.27" font-size="6.4" text-anchor="end" fill="#262626" font-style="italic" stroke="#262626" stroke-width="0.15">U2AF1</text>
<circle cx="459.6" cy="327.8" r="0.9" fill="#2e2e3a"/>
<rect x="430.6" y="333.51" width="4.8" height="9.2" fill="#0d4c88"/>
<rect x="435.4" y="333.51" width="8.4" height="9.2" fill="#c36911"/>
<line x1="435.4" y1="333.51" x2="435.4" y2="342.71" stroke="#ffffff" stroke-width="0.4"/>
<line x1="354.7" y1="338.11" x2="357.7" y2="338.11" stroke="#222" stroke-width="0.8"/>
<text transform="translate(351.4 338.11) scale(0.9500 1)" x="0" y="2.27" font-size="6.4" text-anchor="end" fill="#262626" font-style="italic" stroke="#262626" stroke-width="0.15">SF3B1</text>
<rect x="430.6" y="344.02" width="4.8" height="9.2" fill="#0d4c88"/>
<rect x="435.4" y="344.02" width="10.3" height="9.2" fill="#c36911"/>
<line x1="435.4" y1="344.02" x2="435.4" y2="353.22" stroke="#ffffff" stroke-width="0.4"/>
<line x1="354.7" y1="348.62" x2="357.7" y2="348.62" stroke="#222" stroke-width="0.8"/>
<text transform="translate(351.4 348.62) scale(0.9500 1)" x="0" y="2.27" font-size="6.4" text-anchor="end" fill="#262626" font-style="italic" stroke="#262626" stroke-width="0.15">SRSF2</text>
<rect x="430.6" y="354.53" width="4.8" height="9.2" fill="#0d4c88"/>
<rect x="435.4" y="354.53" width="12.4" height="9.2" fill="#c36911"/>
<line x1="435.4" y1="354.53" x2="435.4" y2="363.73" stroke="#ffffff" stroke-width="0.4"/>
<line x1="354.7" y1="359.13" x2="357.7" y2="359.13" stroke="#222" stroke-width="0.8"/>
<text transform="translate(351.4 359.13) scale(0.9500 1)" x="0" y="2.27" font-size="6.4" text-anchor="end" fill="#262626" font-style="italic" stroke="#262626" stroke-width="0.15">SETBP1</text>
<rect x="434" y="365.04" width="1.4" height="9.2" fill="#0d4c88"/>
<rect x="435.4" y="365.04" width="8.8" height="9.2" fill="#c36911"/>
<line x1="435.4" y1="365.04" x2="435.4" y2="374.24" stroke="#ffffff" stroke-width="0.4"/>
<line x1="354.7" y1="369.64" x2="357.7" y2="369.64" stroke="#222" stroke-width="0.8"/>
<text transform="translate(351.4 369.64) scale(0.9500 1)" x="0" y="2.27" font-size="6.4" text-anchor="end" fill="#262626" font-style="italic" stroke="#262626" stroke-width="0.15">ETV6</text>
<rect x="434" y="375.55" width="1.4" height="9.2" fill="#0d4c88"/>
<rect x="435.4" y="375.55" width="14.6" height="9.2" fill="#c36911"/>
<line x1="435.4" y1="375.55" x2="435.4" y2="384.75" stroke="#ffffff" stroke-width="0.4"/>
<line x1="354.7" y1="380.15" x2="357.7" y2="380.15" stroke="#222" stroke-width="0.8"/>
<text transform="translate(351.4 380.15) scale(0.9500 1)" x="0" y="2.27" font-size="6.4" text-anchor="end" fill="#262626" font-style="italic" stroke="#262626" stroke-width="0.15">DNMT3A</text>
<circle cx="453.8" cy="380.35" r="0.9" fill="#2e2e3a"/>
<circle cx="456.8" cy="380.35" r="0.9" fill="#2e2e3a"/>
<line x1="357.7" y1="216.1" x2="357.7" y2="386.7" stroke="#222" stroke-width="1.1"/>
<line x1="357.2" y1="386.2" x2="511.7" y2="386.2" stroke="#222" stroke-width="1.1"/>
<line x1="363.65" y1="386.2" x2="363.65" y2="388.8" stroke="#222" stroke-width="0.8"/>
<text transform="translate(363.65 395.6) scale(1.0000 1)" x="0" y="2.2" font-size="6.2" text-anchor="middle" fill="#262626" stroke="#262626" stroke-width="0.15">100</text>
<line x1="378" y1="386.2" x2="378" y2="388.8" stroke="#222" stroke-width="0.8"/>
<text transform="translate(378 395.6) scale(1.0000 1)" x="0" y="2.2" font-size="6.2" text-anchor="middle" fill="#262626" stroke="#262626" stroke-width="0.15">80</text>
<line x1="392.35" y1="386.2" x2="392.35" y2="388.8" stroke="#222" stroke-width="0.8"/>
<text transform="translate(392.35 395.6) scale(1.0000 1)" x="0" y="2.2" font-size="6.2" text-anchor="middle" fill="#262626" stroke="#262626" stroke-width="0.15">60</text>
<line x1="406.7" y1="386.2" x2="406.7" y2="388.8" stroke="#222" stroke-width="0.8"/>
<text transform="translate(406.7 395.6) scale(1.0000 1)" x="0" y="2.2" font-size="6.2" text-anchor="middle" fill="#262626" stroke="#262626" stroke-width="0.15">40</text>
<line x1="421.05" y1="386.2" x2="421.05" y2="388.8" stroke="#222" stroke-width="0.8"/>
<text transform="translate(421.05 395.6) scale(1.0000 1)" x="0" y="2.2" font-size="6.2" text-anchor="middle" fill="#262626" stroke="#262626" stroke-width="0.15">20</text>
<line x1="435.4" y1="386.2" x2="435.4" y2="388.8" stroke="#222" stroke-width="0.8"/>
<text transform="translate(435.4 395.6) scale(1.0000 1)" x="0" y="2.2" font-size="6.2" text-anchor="middle" fill="#262626" stroke="#262626" stroke-width="0.15">0</text>
<line x1="449.75" y1="386.2" x2="449.75" y2="388.8" stroke="#222" stroke-width="0.8"/>
<text transform="translate(449.75 395.6) scale(1.0000 1)" x="0" y="2.2" font-size="6.2" text-anchor="middle" fill="#262626" stroke="#262626" stroke-width="0.15">20</text>
<line x1="464.1" y1="386.2" x2="464.1" y2="388.8" stroke="#222" stroke-width="0.8"/>
<text transform="translate(464.1 395.6) scale(1.0000 1)" x="0" y="2.2" font-size="6.2" text-anchor="middle" fill="#262626" stroke="#262626" stroke-width="0.15">40</text>
<line x1="478.45" y1="386.2" x2="478.45" y2="388.8" stroke="#222" stroke-width="0.8"/>
<text transform="translate(478.45 395.6) scale(1.0000 1)" x="0" y="2.2" font-size="6.2" text-anchor="middle" fill="#262626" stroke="#262626" stroke-width="0.15">60</text>
<line x1="492.8" y1="386.2" x2="492.8" y2="388.8" stroke="#222" stroke-width="0.8"/>
<text transform="translate(492.8 395.6) scale(1.0000 1)" x="0" y="2.2" font-size="6.2" text-anchor="middle" fill="#262626" stroke="#262626" stroke-width="0.15">80</text>
<line x1="507.15" y1="386.2" x2="507.15" y2="388.8" stroke="#222" stroke-width="0.8"/>
<text transform="translate(507.15 395.6) scale(1.0000 1)" x="0" y="2.2" font-size="6.2" text-anchor="middle" fill="#262626" stroke="#262626" stroke-width="0.15">100</text>
<text transform="translate(431.3 197.5) scale(0.9831 1)" x="0" y="2.41" font-size="6.8" text-anchor="middle" fill="#262626" stroke="#262626" stroke-width="0.15">7/7q status among cases without CK</text>
<rect x="382.5" y="204.8" width="4.8" height="4.6" fill="#0d4c88"/>
<text transform="translate(391.2 207) scale(0.9106 1)" x="0" y="2.41" font-size="6.8" text-anchor="start" fill="#262626" stroke="#262626" stroke-width="0.15">cnLOH (53)</text>
<rect x="428.8" y="204.8" width="4.8" height="4.6" fill="#c36911"/>
<text transform="translate(436.3 207) scale(0.9472 1)" x="0" y="2.41" font-size="6.8" text-anchor="start" fill="#262626" stroke="#262626" stroke-width="0.15">Haploid LOH (125)</text>
<text transform="translate(436 407) scale(0.8554 1)" x="0" y="2.84" font-size="8" text-anchor="middle" fill="#262626" stroke="#262626" stroke-width="0.15">Percentage of cases mutated within group</text>
<rect x="365.5" y="467.6" width="69.3" height="10" fill="#0d4c88"/>
<rect x="434.8" y="467.6" width="21.2" height="10" fill="#c36911"/>
<line x1="434.8" y1="467.6" x2="434.8" y2="477.6" stroke="#ffffff" stroke-width="0.4"/>
<line x1="354" y1="472.6" x2="357" y2="472.6" stroke="#222" stroke-width="0.8"/>
<text transform="translate(350.7 472.6) scale(0.9500 1)" x="0" y="2.27" font-size="6.4" text-anchor="end" fill="#262626" font-style="italic" stroke="#262626" stroke-width="0.15">ASXL1</text>
<circle cx="459.8" cy="472.8" r="0.9" fill="#2e2e3a"/>
<circle cx="462.8" cy="472.8" r="0.9" fill="#2e2e3a"/>
<circle cx="465.8" cy="472.8" r="0.9" fill="#2e2e3a"/>
<rect x="411.9" y="478.82" width="22.9" height="10" fill="#0d4c88"/>
<rect x="434.8" y="478.82" width="24.2" height="10" fill="#c36911"/>
<line x1="434.8" y1="478.82" x2="434.8" y2="488.82" stroke="#ffffff" stroke-width="0.4"/>
<line x1="354" y1="483.82" x2="357" y2="483.82" stroke="#222" stroke-width="0.8"/>
<text transform="translate(350.7 483.82) scale(0.9500 1)" x="0" y="2.27" font-size="6.4" text-anchor="end" fill="#262626" font-style="italic" stroke="#262626" stroke-width="0.15">TET2</text>
<rect x="414.5" y="490.04" width="20.3" height="10" fill="#0d4c88"/>
<rect x="434.8" y="490.04" width="15.7" height="10" fill="#c36911"/>
<line x1="434.8" y1="490.04" x2="434.8" y2="500.04" stroke="#ffffff" stroke-width="0.4"/>
<line x1="354" y1="495.04" x2="357" y2="495.04" stroke="#222" stroke-width="0.8"/>
<text transform="translate(350.7 495.04) scale(0.9500 1)" x="0" y="2.27" font-size="6.4" text-anchor="end" fill="#262626" font-style="italic" stroke="#262626" stroke-width="0.15">RUNX1</text>
<rect x="415.8" y="501.26" width="19" height="10" fill="#0d4c88"/>
<rect x="434.8" y="501.26" width="4.2" height="10" fill="#c36911"/>
<line x1="434.8" y1="501.26" x2="434.8" y2="511.26" stroke="#ffffff" stroke-width="0.4"/>
<line x1="354" y1="506.26" x2="357" y2="506.26" stroke="#222" stroke-width="0.8"/>
<text transform="translate(350.7 506.26) scale(0.9500 1)" x="0" y="2.27" font-size="6.4" text-anchor="end" fill="#262626" font-style="italic" stroke="#262626" stroke-width="0.15">PHF6</text>
<circle cx="442.8" cy="506.46" r="0.9" fill="#2e2e3a"/>
<circle cx="445.8" cy="506.46" r="0.9" fill="#2e2e3a"/>
<rect x="417.8" y="512.48" width="17" height="10" fill="#0d4c88"/>
<rect x="434.8" y="512.48" width="0.8" height="10" fill="#c36911"/>
<line x1="434.8" y1="512.48" x2="434.8" y2="522.48" stroke="#ffffff" stroke-width="0.4"/>
<line x1="354" y1="517.48" x2="357" y2="517.48" stroke="#222" stroke-width="0.8"/>
<text transform="translate(350.7 517.48) scale(0.9500 1)" x="0" y="2.27" font-size="6.4" text-anchor="end" fill="#262626" font-style="italic" stroke="#262626" stroke-width="0.15">SETBP1</text>
<circle cx="439.4" cy="517.68" r="0.9" fill="#2e2e3a"/>
<circle cx="442.4" cy="517.68" r="0.9" fill="#2e2e3a"/>
<circle cx="445.4" cy="517.68" r="0.9" fill="#2e2e3a"/>
<rect x="418.4" y="523.7" width="16.4" height="10" fill="#0d4c88"/>
<rect x="434.8" y="523.7" width="1.9" height="10" fill="#c36911"/>
<line x1="434.8" y1="523.7" x2="434.8" y2="533.7" stroke="#ffffff" stroke-width="0.4"/>
<line x1="354" y1="528.7" x2="357" y2="528.7" stroke="#222" stroke-width="0.8"/>
<text transform="translate(350.7 528.7) scale(0.9500 1)" x="0" y="2.27" font-size="6.4" text-anchor="end" fill="#262626" font-style="italic" stroke="#262626" stroke-width="0.15">-7</text>
<circle cx="440.5" cy="528.9" r="0.9" fill="#2e2e3a"/>
<circle cx="443.5" cy="528.9" r="0.9" fill="#2e2e3a"/>
<circle cx="446.5" cy="528.9" r="0.9" fill="#2e2e3a"/>
<rect x="420" y="534.92" width="14.8" height="10" fill="#0d4c88"/>
<rect x="434.8" y="534.92" width="3.9" height="10" fill="#c36911"/>
<line x1="434.8" y1="534.92" x2="434.8" y2="544.92" stroke="#ffffff" stroke-width="0.4"/>
<line x1="354" y1="539.92" x2="357" y2="539.92" stroke="#222" stroke-width="0.8"/>
<text transform="translate(350.7 539.92) scale(0.9500 1)" x="0" y="2.27" font-size="6.4" text-anchor="end" fill="#262626" font-style="italic" stroke="#262626" stroke-width="0.15">EZH2</text>
<circle cx="442.5" cy="540.12" r="0.9" fill="#2e2e3a"/>
<circle cx="445.5" cy="540.12" r="0.9" fill="#2e2e3a"/>
<rect x="420.7" y="546.14" width="14.1" height="10" fill="#0d4c88"/>
<rect x="434.8" y="546.14" width="0.5" height="10" fill="#c36911"/>
<line x1="434.8" y1="546.14" x2="434.8" y2="556.14" stroke="#ffffff" stroke-width="0.4"/>
<line x1="354" y1="551.14" x2="357" y2="551.14" stroke="#222" stroke-width="0.8"/>
<text transform="translate(350.7 551.14) scale(0.9500 1)" x="0" y="2.27" font-size="6.4" text-anchor="end" fill="#262626" font-style="italic" stroke="#262626" stroke-width="0.15">CUX1</text>
<circle cx="439.1" cy="551.34" r="0.9" fill="#2e2e3a"/>
<circle cx="442.1" cy="551.34" r="0.9" fill="#2e2e3a"/>
<circle cx="445.1" cy="551.34" r="0.9" fill="#2e2e3a"/>
<rect x="423.3" y="557.36" width="11.5" height="10" fill="#0d4c88"/>
<rect x="434.8" y="557.36" width="1.9" height="10" fill="#c36911"/>
<line x1="434.8" y1="557.36" x2="434.8" y2="567.36" stroke="#ffffff" stroke-width="0.4"/>
<line x1="354" y1="562.36" x2="357" y2="562.36" stroke="#222" stroke-width="0.8"/>
<text transform="translate(350.7 562.36) scale(0.9500 1)" x="0" y="2.27" font-size="6.4" text-anchor="end" fill="#262626" font-style="italic" stroke="#262626" stroke-width="0.15">TP53</text>
<circle cx="440.5" cy="562.56" r="0.9" fill="#2e2e3a"/>
<circle cx="443.5" cy="562.56" r="0.9" fill="#2e2e3a"/>
<rect x="423.7" y="568.58" width="11.1" height="10" fill="#0d4c88"/>
<rect x="434.8" y="568.58" width="24.2" height="10" fill="#c36911"/>
<line x1="434.8" y1="568.58" x2="434.8" y2="578.58" stroke="#ffffff" stroke-width="0.4"/>
<line x1="354" y1="573.58" x2="357" y2="573.58" stroke="#222" stroke-width="0.8"/>
<text transform="translate(350.7 573.58) scale(0.9500 1)" x="0" y="2.27" font-size="6.4" text-anchor="end" fill="#262626" font-style="italic" stroke="#262626" stroke-width="0.15">DNMT3A</text>
<circle cx="462.8" cy="573.78" r="0.9" fill="#2e2e3a"/>
<circle cx="465.8" cy="573.78" r="0.9" fill="#2e2e3a"/>
<rect x="428.2" y="579.8" width="6.6" height="10" fill="#0d4c88"/>
<rect x="434.8" y="579.8" width="10.8" height="10" fill="#c36911"/>
<line x1="434.8" y1="579.8" x2="434.8" y2="589.8" stroke="#ffffff" stroke-width="0.4"/>
<line x1="354" y1="584.8" x2="357" y2="584.8" stroke="#222" stroke-width="0.8"/>
<text transform="translate(350.7 584.8) scale(0.9500 1)" x="0" y="2.27" font-size="6.4" text-anchor="end" fill="#262626" font-style="italic" stroke="#262626" stroke-width="0.15">NRAS</text>
<rect x="429.2" y="591.02" width="5.6" height="10" fill="#0d4c88"/>
<rect x="434.8" y="591.02" width="12.7" height="10" fill="#c36911"/>
<line x1="434.8" y1="591.02" x2="434.8" y2="601.02" stroke="#ffffff" stroke-width="0.4"/>
<line x1="354" y1="596.02" x2="357" y2="596.02" stroke="#222" stroke-width="0.8"/>
<text transform="translate(350.7 596.02) scale(0.9500 1)" x="0" y="2.27" font-size="6.4" text-anchor="end" fill="#262626" stroke="#262626" stroke-width="0.15">+8</text>
<rect x="431.5" y="602.24" width="3.3" height="10" fill="#0d4c88"/>
<rect x="434.8" y="602.24" width="27.7" height="10" fill="#c36911"/>
<line x1="434.8" y1="602.24" x2="434.8" y2="612.24" stroke="#ffffff" stroke-width="0.4"/>
<line x1="354" y1="607.24" x2="357" y2="607.24" stroke="#222" stroke-width="0.8"/>
<text transform="translate(350.7 607.24) scale(0.9500 1)" x="0" y="2.27" font-size="6.4" text-anchor="end" fill="#262626" font-style="italic" stroke="#262626" stroke-width="0.15">del(20q)</text>
<circle cx="466.3" cy="607.44" r="0.9" fill="#2e2e3a"/>
<circle cx="469.3" cy="607.44" r="0.9" fill="#2e2e3a"/>
<circle cx="472.3" cy="607.44" r="0.9" fill="#2e2e3a"/>
<rect x="431.5" y="613.46" width="3.3" height="10" fill="#0d4c88"/>
<rect x="434.8" y="613.46" width="27.7" height="10" fill="#c36911"/>
<line x1="434.8" y1="613.46" x2="434.8" y2="623.46" stroke="#ffffff" stroke-width="0.4"/>
<line x1="354" y1="618.46" x2="357" y2="618.46" stroke="#222" stroke-width="0.8"/>
<text transform="translate(350.7 618.46) scale(0.9500 1)" x="0" y="2.27" font-size="6.4" text-anchor="end" fill="#262626" font-style="italic" stroke="#262626" stroke-width="0.15">BCOR</text>
<circle cx="466.3" cy="618.66" r="0.9" fill="#2e2e3a"/>
<circle cx="469.3" cy="618.66" r="0.9" fill="#2e2e3a"/>
<circle cx="472.3" cy="618.66" r="0.9" fill="#2e2e3a"/>
<rect x="433.1" y="624.68" width="1.7" height="10" fill="#0d4c88"/>
<rect x="434.8" y="624.68" width="16.3" height="10" fill="#c36911"/>
<line x1="434.8" y1="624.68" x2="434.8" y2="634.68" stroke="#ffffff" stroke-width="0.4"/>
<line x1="354" y1="629.68" x2="357" y2="629.68" stroke="#222" stroke-width="0.8"/>
<text transform="translate(350.7 629.68) scale(0.9500 1)" x="0" y="2.27" font-size="6.4" text-anchor="end" fill="#262626" font-style="italic" stroke="#262626" stroke-width="0.15">MLL-PTD</text>
<circle cx="454.9" cy="629.88" r="0.9" fill="#2e2e3a"/>
<circle cx="457.9" cy="629.88" r="0.9" fill="#2e2e3a"/>
<circle cx="460.9" cy="629.88" r="0.9" fill="#2e2e3a"/>
<line x1="357" y1="465" x2="357" y2="637" stroke="#222" stroke-width="1.1"/>
<line x1="356.5" y1="636.5" x2="503" y2="636.5" stroke="#222" stroke-width="1.1"/>
<line x1="370.9" y1="636.5" x2="370.9" y2="639.1" stroke="#222" stroke-width="0.8"/>
<text transform="translate(370.9 645.9) scale(1.0000 1)" x="0" y="2.2" font-size="6.2" text-anchor="middle" fill="#262626" stroke="#262626" stroke-width="0.15">60</text>
<line x1="392.2" y1="636.5" x2="392.2" y2="639.1" stroke="#222" stroke-width="0.8"/>
<text transform="translate(392.2 645.9) scale(1.0000 1)" x="0" y="2.2" font-size="6.2" text-anchor="middle" fill="#262626" stroke="#262626" stroke-width="0.15">40</text>
<line x1="413.5" y1="636.5" x2="413.5" y2="639.1" stroke="#222" stroke-width="0.8"/>
<text transform="translate(413.5 645.9) scale(1.0000 1)" x="0" y="2.2" font-size="6.2" text-anchor="middle" fill="#262626" stroke="#262626" stroke-width="0.15">20</text>
<line x1="434.8" y1="636.5" x2="434.8" y2="639.1" stroke="#222" stroke-width="0.8"/>
<text transform="translate(434.8 645.9) scale(1.0000 1)" x="0" y="2.2" font-size="6.2" text-anchor="middle" fill="#262626" stroke="#262626" stroke-width="0.15">0</text>
<line x1="456.1" y1="636.5" x2="456.1" y2="639.1" stroke="#222" stroke-width="0.8"/>
<text transform="translate(456.1 645.9) scale(1.0000 1)" x="0" y="2.2" font-size="6.2" text-anchor="middle" fill="#262626" stroke="#262626" stroke-width="0.15">20</text>
<line x1="477.4" y1="636.5" x2="477.4" y2="639.1" stroke="#222" stroke-width="0.8"/>
<text transform="translate(477.4 645.9) scale(1.0000 1)" x="0" y="2.2" font-size="6.2" text-anchor="middle" fill="#262626" stroke="#262626" stroke-width="0.15">40</text>
<line x1="498.7" y1="636.5" x2="498.7" y2="639.1" stroke="#222" stroke-width="0.8"/>
<text transform="translate(498.7 645.9) scale(1.0000 1)" x="0" y="2.2" font-size="6.2" text-anchor="middle" fill="#262626" stroke="#262626" stroke-width="0.15">60</text>
<text transform="translate(434.6 447) scale(0.9970 1)" x="0" y="2.41" font-size="6.8" text-anchor="middle" fill="#262626" stroke="#262626" stroke-width="0.15" xml:space="preserve"><tspan>Mutated </tspan><tspan font-style="italic">U2AF1</tspan><tspan> hotspot</tspan></text>
<rect x="395" y="455.3" width="4.6" height="4.4" fill="#0d4c88"/>
<text transform="translate(402.1 457.4) scale(0.9798 1)" x="0" y="2.41" font-size="6.8" text-anchor="start" fill="#262626" stroke="#262626" stroke-width="0.15">Q157 (159)</text>
<rect x="438.8" y="455.3" width="4.6" height="4.4" fill="#c36911"/>
<text transform="translate(446.3 457.4) scale(0.9640 1)" x="0" y="2.41" font-size="6.8" text-anchor="start" fill="#262626" stroke="#262626" stroke-width="0.15">S34 (115)</text>
<text transform="translate(434.8 657) scale(0.8554 1)" x="0" y="2.84" font-size="8" text-anchor="middle" fill="#262626" stroke="#262626" stroke-width="0.15">Percentage of cases mutated within group</text>
<rect x="95" y="443.6" width="4.6" height="4.6" fill="#124b87"/>
<text transform="translate(103.7 445.6) scale(0.9353 1)" x="0" y="2.41" font-size="6.8" text-anchor="start" fill="#262626" stroke="#262626" stroke-width="0.15" xml:space="preserve"><tspan font-style="italic">TET2</tspan><tspan> bi-allelic (480)</tspan></text>
<rect x="164.3" y="443.6" width="4.6" height="4.6" fill="#c5660f"/>
<text transform="translate(172.4 445.6) scale(0.9310 1)" x="0" y="2.41" font-size="6.8" text-anchor="start" fill="#262626" stroke="#262626" stroke-width="0.15" xml:space="preserve"><tspan font-style="italic">TET2</tspan><tspan> other (534)</tspan></text>
<line x1="82.5" y1="519" x2="82.5" y2="534.4" stroke="#8c96a3" stroke-width="0.7"/>
<line x1="116.8" y1="519" x2="116.8" y2="536.4" stroke="#8c96a3" stroke-width="0.7"/>
<path d="M82.8 461.7 C83.05 462.17 83.75 463.37 84.3 464.5 C84.85 465.63 85.47 467.25 86.1 468.5 C86.73 469.75 87.45 470.75 88.1 472 C88.75 473.25 89.5 474.33 90 476 C90.5 477.67 90.82 479.9 91.1 482 C91.38 484.1 91.53 486.37 91.7 488.6 C91.87 490.83 91.92 493.15 92.1 495.4 C92.28 497.65 92.8 500.32 92.8 502.1 C92.8 503.88 92.67 504.75 92.1 506.1 C91.53 507.45 90.33 508.62 89.4 510.2 C88.47 511.78 87.28 514.05 86.5 515.6 C85.72 517.15 85.13 518.38 84.7 519.5 C84.27 520.62 84.17 521.38 83.9 522.3 C83.63 523.22 83.23 524.55 83.1 525 L81.9 525 C81.77 524.55 81.37 523.22 81.1 522.3 C80.83 521.38 80.73 520.62 80.3 519.5 C79.87 518.38 79.28 517.15 78.5 515.6 C77.72 514.05 76.53 511.78 75.6 510.2 C74.67 508.62 73.47 507.45 72.9 506.1 C72.33 504.75 72.2 503.88 72.2 502.1 C72.2 500.32 72.72 497.65 72.9 495.4 C73.08 493.15 73.13 490.83 73.3 488.6 C73.47 486.37 73.62 484.1 73.9 482 C74.18 479.9 74.5 477.67 75 476 C75.5 474.33 76.25 473.25 76.9 472 C77.55 470.75 78.27 469.75 78.9 468.5 C79.53 467.25 80.15 465.63 80.7 464.5 C81.25 463.37 81.95 462.17 82.2 461.7 Z" fill="#124b87" stroke="#0a2552" stroke-width="0.45"/>
<path d="M117.1 465.1 C117.22 465.75 117.52 467.32 117.8 469 C118.08 470.68 118.18 473.05 118.8 475.2 C119.42 477.35 120.38 479.67 121.5 481.9 C122.62 484.13 124.03 486.35 125.5 488.6 C126.97 490.85 129.15 493.37 130.3 495.4 C131.45 497.43 132.22 499.4 132.4 500.8 C132.58 502.2 132.03 502.92 131.4 503.8 C130.77 504.68 129.97 504.82 128.6 506.1 C127.23 507.38 124.72 509.7 123.2 511.5 C121.68 513.3 120.3 515.4 119.5 516.9 C118.7 518.4 118.65 519.6 118.4 520.5 C118.15 521.4 118.17 521.55 118 522.3 C117.83 523.05 117.5 524.55 117.4 525 L116.2 525 C116.1 524.55 115.77 523.05 115.6 522.3 C115.43 521.55 115.45 521.4 115.2 520.5 C114.95 519.6 114.9 518.4 114.1 516.9 C113.3 515.4 111.92 513.3 110.4 511.5 C108.88 509.7 106.37 507.38 105 506.1 C103.63 504.82 102.83 504.68 102.2 503.8 C101.57 502.92 101.02 502.2 101.2 500.8 C101.38 499.4 102.15 497.43 103.3 495.4 C104.45 493.37 106.63 490.85 108.1 488.6 C109.57 486.35 110.98 484.13 112.1 481.9 C113.22 479.67 114.18 477.35 114.8 475.2 C115.42 473.05 115.52 470.68 115.8 469 C116.08 467.32 116.38 465.75 116.5 465.1 Z" fill="#c5660f" stroke="#5e3a08" stroke-width="0.45"/>
<line x1="116.8" y1="465.1" x2="116.8" y2="469" stroke="#5e3a08" stroke-width="0.7"/>
<line x1="82.5" y1="463.5" x2="82.5" y2="483.3" stroke="#9ccbf2" stroke-width="0.7"/>
<line x1="82.5" y1="503.5" x2="82.5" y2="524.5" stroke="#9ccbf2" stroke-width="0.7"/>
<rect x="78.9" y="483.3" width="7.4" height="20.2" fill="none" stroke="#9ccbf2" stroke-width="0.85"/>
<line x1="78.9" y1="493.4" x2="86.3" y2="493.4" stroke="#9ccbf2" stroke-width="0.85"/>
<line x1="116.8" y1="474" x2="116.8" y2="493.4" stroke="#fdc77c" stroke-width="0.7"/>
<line x1="116.8" y1="506.8" x2="116.8" y2="522" stroke="#fdc77c" stroke-width="0.7"/>
<rect x="113.2" y="493.4" width="7.3" height="13.4" fill="none" stroke="#fdc77c" stroke-width="0.85"/>
<line x1="113.2" y1="500.1" x2="120.5" y2="500.1" stroke="#fdc77c" stroke-width="0.85"/>
<line x1="61.9" y1="457.9" x2="61.9" y2="540.5" stroke="#222" stroke-width="1.2"/>
<line x1="61.3" y1="540" x2="137.2" y2="540" stroke="#222" stroke-width="1.2"/>
<line x1="59" y1="465.1" x2="61.9" y2="465.1" stroke="#222" stroke-width="0.8"/>
<text transform="translate(56 465.1) scale(1.0500 1)" x="0" y="2.27" font-size="6.4" text-anchor="end" fill="#262626" stroke="#262626" stroke-width="0.15">16</text>
<line x1="59" y1="487.2" x2="61.9" y2="487.2" stroke="#222" stroke-width="0.8"/>
<text transform="translate(56 487.2) scale(1.0500 1)" x="0" y="2.27" font-size="6.4" text-anchor="end" fill="#262626" stroke="#262626" stroke-width="0.15">12</text>
<line x1="59" y1="509.2" x2="61.9" y2="509.2" stroke="#222" stroke-width="0.8"/>
<text transform="translate(56 509.2) scale(1.0500 1)" x="0" y="2.27" font-size="6.4" text-anchor="end" fill="#262626" stroke="#262626" stroke-width="0.15">8</text>
<line x1="59" y1="531.3" x2="61.9" y2="531.3" stroke="#222" stroke-width="0.8"/>
<text transform="translate(56 531.3) scale(1.0500 1)" x="0" y="2.27" font-size="6.4" text-anchor="end" fill="#262626" stroke="#262626" stroke-width="0.15">4</text>
<line x1="82.5" y1="540" x2="82.5" y2="542.6" stroke="#222" stroke-width="0.8"/>
<line x1="116.8" y1="540" x2="116.8" y2="542.6" stroke="#222" stroke-width="0.8"/>
<text transform="translate(41.75 499.1) rotate(-90) scale(0.8356 1)" x="0" y="3.02" font-size="8.5" text-anchor="middle" fill="#262626" stroke="#262626" stroke-width="0.15">Hemoglobin in g/dL</text>
<line x1="82.5" y1="461.5" x2="116.8" y2="461.5" stroke="#333" stroke-width="0.85"/>
<line x1="82.5" y1="461.5" x2="82.5" y2="463.7" stroke="#333" stroke-width="0.8"/>
<line x1="116.8" y1="461.5" x2="116.8" y2="463.7" stroke="#333" stroke-width="0.8"/>
<circle cx="95.2" cy="469.4" r="0.9" fill="#2e2e3a"/>
<circle cx="98.2" cy="469.4" r="0.9" fill="#2e2e3a"/>
<circle cx="101.2" cy="469.4" r="0.9" fill="#2e2e3a"/>
<circle cx="104.2" cy="469.4" r="0.9" fill="#2e2e3a"/>
<path d="M203.8 462.5 C203.83 463.75 203.92 467.08 204 470 C204.08 472.92 204.18 477 204.3 480 C204.42 483 204.58 485.9 204.7 488 C204.82 490.1 204.77 490.93 205 492.6 C205.23 494.27 205.68 496.27 206.1 498 C206.52 499.73 207.1 501.53 207.5 503 C207.9 504.47 207.83 505.3 208.5 506.8 C209.17 508.3 210.43 510.1 211.5 512 C212.57 513.9 214.07 516.2 214.9 518.2 C215.73 520.2 216.07 522.12 216.5 524 C216.93 525.88 217.4 528.08 217.5 529.5 C217.6 530.92 217.4 531.67 217.1 532.5 C216.8 533.33 216.47 534.02 215.7 534.5 C214.93 534.98 213.7 535.22 212.5 535.4 C211.3 535.58 209.17 535.57 208.5 535.6 L198.5 535.6 C197.83 535.57 195.7 535.58 194.5 535.4 C193.3 535.22 192.07 534.98 191.3 534.5 C190.53 534.02 190.2 533.33 189.9 532.5 C189.6 531.67 189.4 530.92 189.5 529.5 C189.6 528.08 190.07 525.88 190.5 524 C190.93 522.12 191.27 520.2 192.1 518.2 C192.93 516.2 194.43 513.9 195.5 512 C196.57 510.1 197.83 508.3 198.5 506.8 C199.17 505.3 199.1 504.47 199.5 503 C199.9 501.53 200.48 499.73 200.9 498 C201.32 496.27 201.77 494.27 202 492.6 C202.23 490.93 202.18 490.1 202.3 488 C202.42 485.9 202.58 483 202.7 480 C202.82 477 202.92 472.92 203 470 C203.08 467.08 203.17 463.75 203.2 462.5 Z" fill="#124b87" stroke="#0a2552" stroke-width="0.45"/>
<line x1="203.5" y1="462.5" x2="203.5" y2="488" stroke="#0a2552" stroke-width="0.7"/>
<path d="M238.3 461 C238.33 462.17 238.38 465.67 238.5 468 C238.62 470.33 238.78 472.83 239 475 C239.22 477.17 239.55 479.25 239.8 481 C240.05 482.75 240.17 483.67 240.5 485.5 C240.83 487.33 241.27 489.63 241.8 492 C242.33 494.37 243.07 497.2 243.7 499.7 C244.33 502.2 245.02 504.62 245.6 507 C246.18 509.38 246.73 511.83 247.2 514 C247.67 516.17 248.12 518.12 248.4 520 C248.68 521.88 248.88 523.72 248.9 525.3 C248.92 526.88 248.78 528.22 248.5 529.5 C248.22 530.78 247.68 532.05 247.2 533 C246.72 533.95 246.3 534.67 245.6 535.2 C244.9 535.73 243.43 536.03 243 536.2 L233 536.2 C232.57 536.03 231.1 535.73 230.4 535.2 C229.7 534.67 229.28 533.95 228.8 533 C228.32 532.05 227.78 530.78 227.5 529.5 C227.22 528.22 227.08 526.88 227.1 525.3 C227.12 523.72 227.32 521.88 227.6 520 C227.88 518.12 228.33 516.17 228.8 514 C229.27 511.83 229.82 509.38 230.4 507 C230.98 504.62 231.67 502.2 232.3 499.7 C232.93 497.2 233.67 494.37 234.2 492 C234.73 489.63 235.17 487.33 235.5 485.5 C235.83 483.67 235.95 482.75 236.2 481 C236.45 479.25 236.78 477.17 237 475 C237.22 472.83 237.38 470.33 237.5 468 C237.62 465.67 237.67 462.17 237.7 461 Z" fill="#c5660f" stroke="#5e3a08" stroke-width="0.45"/>
<line x1="238" y1="461" x2="238" y2="475" stroke="#5e3a08" stroke-width="0.7"/>
<line x1="203.5" y1="494" x2="203.5" y2="514.6" stroke="#9ccbf2" stroke-width="0.7"/>
<line x1="203.5" y1="527.8" x2="203.5" y2="535.4" stroke="#9ccbf2" stroke-width="0.7"/>
<rect x="200.7" y="514.6" width="5.6" height="13.2" fill="none" stroke="#9ccbf2" stroke-width="0.85"/>
<line x1="200.7" y1="522.4" x2="206.3" y2="522.4" stroke="#9ccbf2" stroke-width="0.85"/>
<line x1="238" y1="486" x2="238" y2="504.7" stroke="#fdc77c" stroke-width="0.7"/>
<line x1="238" y1="525.3" x2="238" y2="536" stroke="#fdc77c" stroke-width="0.7"/>
<rect x="234.3" y="504.7" width="7.1" height="20.6" fill="none" stroke="#fdc77c" stroke-width="0.85"/>
<line x1="234.3" y1="518.2" x2="241.4" y2="518.2" stroke="#fdc77c" stroke-width="0.85"/>
<line x1="182.5" y1="457.7" x2="182.5" y2="540.3" stroke="#222" stroke-width="1.2"/>
<line x1="181.9" y1="539.8" x2="258" y2="539.8" stroke="#222" stroke-width="1.2"/>
<line x1="179.6" y1="461.5" x2="182.5" y2="461.5" stroke="#222" stroke-width="0.8"/>
<text transform="translate(176.6 461.5) scale(1.0500 1)" x="0" y="2.27" font-size="6.4" text-anchor="end" fill="#262626" stroke="#262626" stroke-width="0.15">600</text>
<line x1="179.6" y1="486.5" x2="182.5" y2="486.5" stroke="#222" stroke-width="0.8"/>
<text transform="translate(176.6 486.5) scale(1.0500 1)" x="0" y="2.27" font-size="6.4" text-anchor="end" fill="#262626" stroke="#262626" stroke-width="0.15">400</text>
<line x1="179.6" y1="511.5" x2="182.5" y2="511.5" stroke="#222" stroke-width="0.8"/>
<text transform="translate(176.6 511.5) scale(1.0500 1)" x="0" y="2.27" font-size="6.4" text-anchor="end" fill="#262626" stroke="#262626" stroke-width="0.15">200</text>
<line x1="179.6" y1="536.5" x2="182.5" y2="536.5" stroke="#222" stroke-width="0.8"/>
<text transform="translate(176.6 536.5) scale(1.0500 1)" x="0" y="2.27" font-size="6.4" text-anchor="end" fill="#262626" stroke="#262626" stroke-width="0.15">0</text>
<line x1="203.5" y1="539.8" x2="203.5" y2="542.4" stroke="#222" stroke-width="0.8"/>
<line x1="238" y1="539.8" x2="238" y2="542.4" stroke="#222" stroke-width="0.8"/>
<text transform="translate(157.7 499.5) rotate(-90) scale(0.7811 1)" x="0" y="3.02" font-size="8.5" text-anchor="middle" fill="#262626" stroke="#262626" stroke-width="0.15">Platelet in G/L</text>
<line x1="203.5" y1="459.5" x2="238" y2="459.5" stroke="#333" stroke-width="0.85"/>
<line x1="203.5" y1="459.5" x2="203.5" y2="461.7" stroke="#333" stroke-width="0.8"/>
<line x1="238" y1="459.5" x2="238" y2="461.7" stroke="#333" stroke-width="0.8"/>
<circle cx="216.5" cy="469.2" r="0.9" fill="#2e2e3a"/>
<circle cx="219.5" cy="469.2" r="0.9" fill="#2e2e3a"/>
<circle cx="222.5" cy="469.2" r="0.9" fill="#2e2e3a"/>
<circle cx="225.5" cy="469.2" r="0.9" fill="#2e2e3a"/>
<line x1="82.5" y1="559" x2="82.5" y2="604" stroke="#1f2f45" stroke-width="0.75"/>
<line x1="116.8" y1="559" x2="116.8" y2="626" stroke="#6f6f6f" stroke-width="0.8" stroke-dasharray="1.2 0.9"/>
<path d="M82.9 600 C82.98 601 83.22 604.17 83.4 606 C83.58 607.83 83.82 609.4 84 611 C84.18 612.6 84.25 613.93 84.5 615.6 C84.75 617.27 85.27 619.43 85.5 621 C85.73 622.57 85.33 623.77 85.9 625 C86.47 626.23 88.18 627.17 88.9 628.4 C89.62 629.63 90.05 631.27 90.2 632.4 C90.35 633.53 90.15 634.47 89.8 635.2 C89.45 635.93 88.82 636.43 88.1 636.8 C87.38 637.17 85.93 637.3 85.5 637.4 L79.5 637.4 C79.07 637.3 77.62 637.17 76.9 636.8 C76.18 636.43 75.55 635.93 75.2 635.2 C74.85 634.47 74.65 633.53 74.8 632.4 C74.95 631.27 75.38 629.63 76.1 628.4 C76.82 627.17 78.53 626.23 79.1 625 C79.67 623.77 79.27 622.57 79.5 621 C79.73 619.43 80.25 617.27 80.5 615.6 C80.75 613.93 80.82 612.6 81 611 C81.18 609.4 81.42 607.83 81.6 606 C81.78 604.17 82.02 601 82.1 600 Z" fill="#124b87" stroke="#0a2552" stroke-width="0.45"/>
<line x1="82.5" y1="600" x2="82.5" y2="606" stroke="#0a2552" stroke-width="0.7"/>
<path d="M117.2 621 C117.38 621.67 117.75 623.77 118.3 625 C118.85 626.23 119.3 627.28 120.5 628.4 C121.7 629.52 123.65 630.7 125.5 631.7 C127.35 632.7 130.62 633.62 131.6 634.4 C132.58 635.18 132.03 635.9 131.4 636.4 C130.77 636.9 128.4 637.23 127.8 637.4 L105.8 637.4 C105.2 637.23 102.83 636.9 102.2 636.4 C101.57 635.9 101.02 635.18 102 634.4 C102.98 633.62 106.25 632.7 108.1 631.7 C109.95 630.7 111.9 629.52 113.1 628.4 C114.3 627.28 114.75 626.23 115.3 625 C115.85 623.77 116.22 621.67 116.4 621 Z" fill="#c5660f" stroke="#5e3a08" stroke-width="0.45"/>
<line x1="82.5" y1="622.3" x2="82.5" y2="628.8" stroke="#9ccbf2" stroke-width="0.7"/>
<line x1="82.5" y1="634.4" x2="82.5" y2="637" stroke="#9ccbf2" stroke-width="0.7"/>
<rect x="79.1" y="628.8" width="6.1" height="5.6" fill="none" stroke="#9ccbf2" stroke-width="0.85"/>
<line x1="79.1" y1="631.6" x2="85.2" y2="631.6" stroke="#9ccbf2" stroke-width="0.85"/>
<line x1="116.8" y1="627" x2="116.8" y2="631.4" stroke="#fdc77c" stroke-width="0.7"/>
<line x1="116.8" y1="636.4" x2="116.8" y2="637.3" stroke="#fdc77c" stroke-width="0.7"/>
<rect x="112.8" y="631.4" width="7.4" height="5" fill="none" stroke="#fdc77c" stroke-width="0.85"/>
<line x1="112.8" y1="634" x2="120.2" y2="634" stroke="#fdc77c" stroke-width="0.85"/>
<line x1="62" y1="559" x2="62" y2="641.6" stroke="#222" stroke-width="1.2"/>
<line x1="61.4" y1="641.1" x2="137.6" y2="641.1" stroke="#222" stroke-width="1.2"/>
<line x1="59.1" y1="571.2" x2="62" y2="571.2" stroke="#222" stroke-width="0.8"/>
<text transform="translate(56.1 571.2) scale(1.0500 1)" x="0" y="2.27" font-size="6.4" text-anchor="end" fill="#262626" stroke="#262626" stroke-width="0.15">8</text>
<line x1="59.1" y1="587.7" x2="62" y2="587.7" stroke="#222" stroke-width="0.8"/>
<text transform="translate(56.1 587.7) scale(1.0500 1)" x="0" y="2.27" font-size="6.4" text-anchor="end" fill="#262626" stroke="#262626" stroke-width="0.15">6</text>
<line x1="59.1" y1="604.5" x2="62" y2="604.5" stroke="#222" stroke-width="0.8"/>
<text transform="translate(56.1 604.5) scale(1.0500 1)" x="0" y="2.27" font-size="6.4" text-anchor="end" fill="#262626" stroke="#262626" stroke-width="0.15">4</text>
<line x1="59.1" y1="621.2" x2="62" y2="621.2" stroke="#222" stroke-width="0.8"/>
<text transform="translate(56.1 621.2) scale(1.0500 1)" x="0" y="2.27" font-size="6.4" text-anchor="end" fill="#262626" stroke="#262626" stroke-width="0.15">2</text>
<line x1="59.1" y1="637.8" x2="62" y2="637.8" stroke="#222" stroke-width="0.8"/>
<text transform="translate(56.1 637.8) scale(1.0500 1)" x="0" y="2.27" font-size="6.4" text-anchor="end" fill="#262626" stroke="#262626" stroke-width="0.15">0</text>
<line x1="82.5" y1="641.1" x2="82.5" y2="643.7" stroke="#222" stroke-width="0.8"/>
<line x1="116.8" y1="641.1" x2="116.8" y2="643.7" stroke="#222" stroke-width="0.8"/>
<text transform="translate(44.3 600.5) rotate(-90) scale(0.7934 1)" x="0" y="3.02" font-size="8.5" text-anchor="middle" fill="#262626" stroke="#262626" stroke-width="0.15">Monocyte in G/L</text>
<line x1="82.5" y1="564.5" x2="116.8" y2="564.5" stroke="#333" stroke-width="0.85"/>
<line x1="82.5" y1="564.5" x2="82.5" y2="566.7" stroke="#333" stroke-width="0.8"/>
<line x1="116.8" y1="564.5" x2="116.8" y2="566.7" stroke="#333" stroke-width="0.8"/>
<circle cx="95.2" cy="571.8" r="0.9" fill="#2e2e3a"/>
<circle cx="98.2" cy="571.8" r="0.9" fill="#2e2e3a"/>
<circle cx="101.2" cy="571.8" r="0.9" fill="#2e2e3a"/>
<circle cx="104.2" cy="571.8" r="0.9" fill="#2e2e3a"/>
<path d="M204.1 568 C204.15 569.67 204.28 574.52 204.4 578 C204.52 581.48 204.67 586.23 204.8 588.9 C204.93 591.57 205.07 592.32 205.2 594 C205.33 595.68 205.42 597.45 205.6 599 C205.78 600.55 206.12 601.38 206.3 603.3 C206.48 605.22 206.42 608.1 206.7 610.5 C206.98 612.9 207.4 615.78 208 617.7 C208.6 619.62 209.38 620.55 210.3 622 C211.22 623.45 212.57 624.95 213.5 626.4 C214.43 627.85 215.42 629.38 215.9 630.7 C216.38 632.02 216.58 633.38 216.4 634.3 C216.22 635.22 215.9 635.7 214.8 636.2 C213.7 636.7 210.63 637.12 209.8 637.3 L197.8 637.3 C196.97 637.12 193.9 636.7 192.8 636.2 C191.7 635.7 191.38 635.22 191.2 634.3 C191.02 633.38 191.22 632.02 191.7 630.7 C192.18 629.38 193.17 627.85 194.1 626.4 C195.03 624.95 196.38 623.45 197.3 622 C198.22 620.55 199 619.62 199.6 617.7 C200.2 615.78 200.62 612.9 200.9 610.5 C201.18 608.1 201.12 605.22 201.3 603.3 C201.48 601.38 201.82 600.55 202 599 C202.18 597.45 202.27 595.68 202.4 594 C202.53 592.32 202.67 591.57 202.8 588.9 C202.93 586.23 203.08 581.48 203.2 578 C203.32 574.52 203.45 569.67 203.5 568 Z" fill="#124b87" stroke="#0a2552" stroke-width="0.45"/>
<line x1="203.8" y1="568" x2="203.8" y2="588.9" stroke="#0a2552" stroke-width="0.7"/>
<path d="M238.3 578 C238.38 579.67 238.65 585 238.8 588 C238.95 591 239.03 593.67 239.2 596 C239.37 598.33 239.58 600.07 239.8 602 C240.02 603.93 240.13 604.98 240.5 607.6 C240.87 610.22 241.15 614.8 242 617.7 C242.85 620.6 244.4 623.07 245.6 625 C246.8 626.93 247.97 627.87 249.2 629.3 C250.43 630.73 252.4 632.48 253 633.6 C253.6 634.72 253.47 635.38 252.8 636 C252.13 636.62 249.63 637.08 249 637.3 L227 637.3 C226.37 637.08 223.87 636.62 223.2 636 C222.53 635.38 222.4 634.72 223 633.6 C223.6 632.48 225.57 630.73 226.8 629.3 C228.03 627.87 229.2 626.93 230.4 625 C231.6 623.07 233.15 620.6 234 617.7 C234.85 614.8 235.13 610.22 235.5 607.6 C235.87 604.98 235.98 603.93 236.2 602 C236.42 600.07 236.63 598.33 236.8 596 C236.97 593.67 237.05 591 237.2 588 C237.35 585 237.62 579.67 237.7 578 Z" fill="#c5660f" stroke="#5e3a08" stroke-width="0.45"/>
<line x1="238" y1="578" x2="238" y2="596" stroke="#5e3a08" stroke-width="0.7"/>
<line x1="203.8" y1="609" x2="203.8" y2="623.5" stroke="#9ccbf2" stroke-width="0.7"/>
<line x1="203.8" y1="633.6" x2="203.8" y2="637.2" stroke="#9ccbf2" stroke-width="0.7"/>
<rect x="200.2" y="623.5" width="6.7" height="10.1" fill="none" stroke="#9ccbf2" stroke-width="0.85"/>
<line x1="200.2" y1="630.7" x2="206.9" y2="630.7" stroke="#9ccbf2" stroke-width="0.85"/>
<line x1="238" y1="612" x2="238" y2="624.2" stroke="#fdc77c" stroke-width="0.7"/>
<line x1="238" y1="635" x2="238" y2="637.3" stroke="#fdc77c" stroke-width="0.7"/>
<rect x="234.8" y="624.2" width="6.8" height="10.8" fill="none" stroke="#fdc77c" stroke-width="0.85"/>
<line x1="234.8" y1="632.9" x2="241.6" y2="632.9" stroke="#fdc77c" stroke-width="0.85"/>
<line x1="182.3" y1="559.3" x2="182.3" y2="641.7" stroke="#222" stroke-width="1.2"/>
<line x1="181.7" y1="641.2" x2="258.4" y2="641.2" stroke="#222" stroke-width="1.2"/>
<line x1="179.4" y1="566.4" x2="182.3" y2="566.4" stroke="#222" stroke-width="0.8"/>
<text transform="translate(176.4 566.4) scale(1.0500 1)" x="0" y="2.27" font-size="6.4" text-anchor="end" fill="#262626" stroke="#262626" stroke-width="0.15">30</text>
<line x1="179.4" y1="590.3" x2="182.3" y2="590.3" stroke="#222" stroke-width="0.8"/>
<text transform="translate(176.4 590.3) scale(1.0500 1)" x="0" y="2.27" font-size="6.4" text-anchor="end" fill="#262626" stroke="#262626" stroke-width="0.15">20</text>
<line x1="179.4" y1="614" x2="182.3" y2="614" stroke="#222" stroke-width="0.8"/>
<text transform="translate(176.4 614) scale(1.0500 1)" x="0" y="2.27" font-size="6.4" text-anchor="end" fill="#262626" stroke="#262626" stroke-width="0.15">10</text>
<line x1="179.4" y1="637.4" x2="182.3" y2="637.4" stroke="#222" stroke-width="0.8"/>
<text transform="translate(176.4 637.4) scale(1.0500 1)" x="0" y="2.27" font-size="6.4" text-anchor="end" fill="#262626" stroke="#262626" stroke-width="0.15">0</text>
<line x1="203.8" y1="641.2" x2="203.8" y2="643.8" stroke="#222" stroke-width="0.8"/>
<line x1="238" y1="641.2" x2="238" y2="643.8" stroke="#222" stroke-width="0.8"/>
<text transform="translate(161.9 600.1) rotate(-90) scale(0.7936 1)" x="0" y="3.02" font-size="8.5" text-anchor="middle" fill="#262626" stroke="#262626" stroke-width="0.15">Bone marrow blast (%)</text>
<line x1="203.8" y1="562.6" x2="238" y2="562.6" stroke="#a0a0a0" stroke-width="1.5"/>
<circle cx="217.8" cy="570.4" r="0.9" fill="#2e2e3a"/>
<circle cx="220.8" cy="570.4" r="0.9" fill="#2e2e3a"/>
<circle cx="223.8" cy="570.4" r="0.9" fill="#2e2e3a"/><rect x="0.5" y="0.5" width="519" height="668" fill="none" stroke="#595959" stroke-width="1"/></svg>
</body></html>
